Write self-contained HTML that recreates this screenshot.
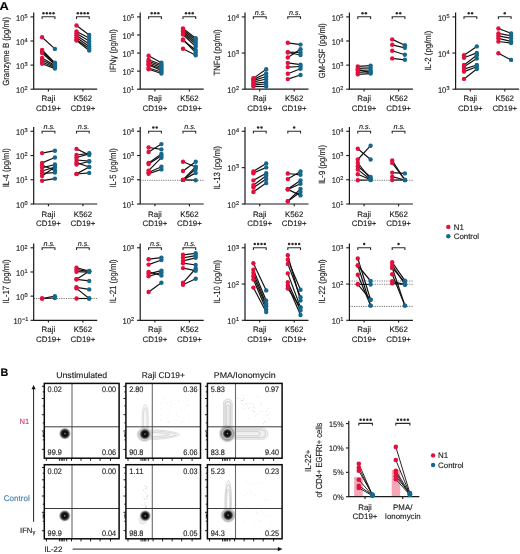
<!DOCTYPE html>
<html><head><meta charset="utf-8"><style>
html,body{margin:0;padding:0;background:#fff;}
svg text{stroke:#1a1a1a;stroke-width:0.13px;}
svg{display:block;font-family:"Liberation Sans", sans-serif;will-change:transform;text-rendering:geometricPrecision;}
</style></head><body>
<svg width="520" height="554" viewBox="0 0 520 554">
<path d="M33.7 12.5V89.2H97.2" fill="none" stroke="#1a1a1a" stroke-width="1.2"/>
<line x1="30.5" y1="16.9" x2="33.7" y2="16.9" stroke="#1a1a1a" stroke-width="1.1"/>
<text x="24.4" y="20.5" font-size="8.4" text-anchor="end" fill="#1a1a1a" textLength="8.4" lengthAdjust="spacingAndGlyphs">10</text>
<text x="24.6" y="17.6" font-size="5.6" fill="#1a1a1a">5</text>
<line x1="30.5" y1="41" x2="33.7" y2="41" stroke="#1a1a1a" stroke-width="1.1"/>
<text x="24.4" y="44.6" font-size="8.4" text-anchor="end" fill="#1a1a1a" textLength="8.4" lengthAdjust="spacingAndGlyphs">10</text>
<text x="24.6" y="41.7" font-size="5.6" fill="#1a1a1a">4</text>
<line x1="30.5" y1="65.1" x2="33.7" y2="65.1" stroke="#1a1a1a" stroke-width="1.1"/>
<text x="24.4" y="68.7" font-size="8.4" text-anchor="end" fill="#1a1a1a" textLength="8.4" lengthAdjust="spacingAndGlyphs">10</text>
<text x="24.6" y="65.8" font-size="5.6" fill="#1a1a1a">3</text>
<line x1="30.5" y1="89.2" x2="33.7" y2="89.2" stroke="#1a1a1a" stroke-width="1.1"/>
<text x="24.4" y="92.8" font-size="8.4" text-anchor="end" fill="#1a1a1a" textLength="8.4" lengthAdjust="spacingAndGlyphs">10</text>
<text x="24.6" y="89.9" font-size="5.6" fill="#1a1a1a">2</text>
<line x1="48.4" y1="89.2" x2="48.4" y2="91.5" stroke="#1a1a1a" stroke-width="1.1"/>
<text x="48.4" y="100.8" font-size="7.9" text-anchor="middle" fill="#1a1a1a">Raji</text>
<text x="48.4" y="110.6" font-size="7.9" text-anchor="middle" fill="#1a1a1a">CD19+</text>
<line x1="82.9" y1="89.2" x2="82.9" y2="91.5" stroke="#1a1a1a" stroke-width="1.1"/>
<text x="82.9" y="100.8" font-size="7.9" text-anchor="middle" fill="#1a1a1a">K562</text>
<text x="82.9" y="110.6" font-size="7.9" text-anchor="middle" fill="#1a1a1a">CD19+</text>
<text transform="translate(9,51.3) rotate(-90)" font-size="9" text-anchor="middle" fill="#1a1a1a" stroke="#1a1a1a" stroke-width="0.2" textLength="68.8" lengthAdjust="spacingAndGlyphs">Granzyme B (pg/ml)</text>
<path d="M42.1 19V16.8H54.9V19" fill="none" stroke="#2a2a2a" stroke-width="1.1"/>
<circle cx="43.48" cy="13.2" r="1.25" fill="#2a2a2a"/>
<circle cx="46.83" cy="13.2" r="1.25" fill="#2a2a2a"/>
<circle cx="50.17" cy="13.2" r="1.25" fill="#2a2a2a"/>
<circle cx="53.52" cy="13.2" r="1.25" fill="#2a2a2a"/>
<path d="M76.5 19V16.8H89.2V19" fill="none" stroke="#2a2a2a" stroke-width="1.1"/>
<circle cx="77.82" cy="13.2" r="1.25" fill="#2a2a2a"/>
<circle cx="81.17" cy="13.2" r="1.25" fill="#2a2a2a"/>
<circle cx="84.52" cy="13.2" r="1.25" fill="#2a2a2a"/>
<circle cx="87.88" cy="13.2" r="1.25" fill="#2a2a2a"/>
<line x1="42.1" y1="37.3" x2="54.9" y2="48.9" stroke="#111" stroke-width="1.2"/>
<line x1="42.1" y1="50" x2="54.9" y2="62.8" stroke="#111" stroke-width="1.2"/>
<line x1="42.1" y1="51.5" x2="54.9" y2="63.5" stroke="#111" stroke-width="1.2"/>
<line x1="42.1" y1="53" x2="54.9" y2="64.5" stroke="#111" stroke-width="1.2"/>
<line x1="42.1" y1="58" x2="54.9" y2="65.5" stroke="#111" stroke-width="1.2"/>
<line x1="42.1" y1="60" x2="54.9" y2="66.5" stroke="#111" stroke-width="1.2"/>
<line x1="42.1" y1="62" x2="54.9" y2="67.5" stroke="#111" stroke-width="1.2"/>
<line x1="42.1" y1="63.8" x2="54.9" y2="68.6" stroke="#111" stroke-width="1.2"/>
<circle cx="42.1" cy="37.3" r="2.2" fill="#e2103d"/>
<circle cx="54.9" cy="48.9" r="2.2" fill="#17688e"/>
<circle cx="42.1" cy="50" r="2.2" fill="#e2103d"/>
<circle cx="54.9" cy="62.8" r="2.2" fill="#17688e"/>
<circle cx="42.1" cy="51.5" r="2.2" fill="#e2103d"/>
<circle cx="54.9" cy="63.5" r="2.2" fill="#17688e"/>
<circle cx="42.1" cy="53" r="2.2" fill="#e2103d"/>
<circle cx="54.9" cy="64.5" r="2.2" fill="#17688e"/>
<circle cx="42.1" cy="58" r="2.2" fill="#e2103d"/>
<circle cx="54.9" cy="65.5" r="2.2" fill="#17688e"/>
<circle cx="42.1" cy="60" r="2.2" fill="#e2103d"/>
<circle cx="54.9" cy="66.5" r="2.2" fill="#17688e"/>
<circle cx="42.1" cy="62" r="2.2" fill="#e2103d"/>
<circle cx="54.9" cy="67.5" r="2.2" fill="#17688e"/>
<circle cx="42.1" cy="63.8" r="2.2" fill="#e2103d"/>
<circle cx="54.9" cy="68.6" r="2.2" fill="#17688e"/>
<line x1="76.5" y1="25.5" x2="89.2" y2="35" stroke="#111" stroke-width="1.2"/>
<line x1="76.5" y1="31.5" x2="89.2" y2="38" stroke="#111" stroke-width="1.2"/>
<line x1="76.5" y1="33.5" x2="89.2" y2="41" stroke="#111" stroke-width="1.2"/>
<line x1="76.5" y1="35.5" x2="89.2" y2="44" stroke="#111" stroke-width="1.2"/>
<line x1="76.5" y1="37.5" x2="89.2" y2="46.5" stroke="#111" stroke-width="1.2"/>
<line x1="76.5" y1="39.5" x2="89.2" y2="48.5" stroke="#111" stroke-width="1.2"/>
<line x1="76.5" y1="40.5" x2="89.2" y2="50.5" stroke="#111" stroke-width="1.2"/>
<circle cx="76.5" cy="25.5" r="2.2" fill="#e2103d"/>
<circle cx="89.2" cy="35" r="2.2" fill="#17688e"/>
<circle cx="76.5" cy="31.5" r="2.2" fill="#e2103d"/>
<circle cx="89.2" cy="38" r="2.2" fill="#17688e"/>
<circle cx="76.5" cy="33.5" r="2.2" fill="#e2103d"/>
<circle cx="89.2" cy="41" r="2.2" fill="#17688e"/>
<circle cx="76.5" cy="35.5" r="2.2" fill="#e2103d"/>
<circle cx="89.2" cy="44" r="2.2" fill="#17688e"/>
<circle cx="76.5" cy="37.5" r="2.2" fill="#e2103d"/>
<circle cx="89.2" cy="46.5" r="2.2" fill="#17688e"/>
<circle cx="76.5" cy="39.5" r="2.2" fill="#e2103d"/>
<circle cx="89.2" cy="48.5" r="2.2" fill="#17688e"/>
<circle cx="76.5" cy="40.5" r="2.2" fill="#e2103d"/>
<circle cx="89.2" cy="50.5" r="2.2" fill="#17688e"/>
<path d="M140.2 12.5V89.2H203.7" fill="none" stroke="#1a1a1a" stroke-width="1.2"/>
<line x1="137" y1="16.9" x2="140.2" y2="16.9" stroke="#1a1a1a" stroke-width="1.1"/>
<text x="130.9" y="20.5" font-size="8.4" text-anchor="end" fill="#1a1a1a" textLength="8.4" lengthAdjust="spacingAndGlyphs">10</text>
<text x="131.1" y="17.6" font-size="5.6" fill="#1a1a1a">5</text>
<line x1="137" y1="34.98" x2="140.2" y2="34.98" stroke="#1a1a1a" stroke-width="1.1"/>
<text x="130.9" y="38.58" font-size="8.4" text-anchor="end" fill="#1a1a1a" textLength="8.4" lengthAdjust="spacingAndGlyphs">10</text>
<text x="131.1" y="35.68" font-size="5.6" fill="#1a1a1a">4</text>
<line x1="137" y1="53.05" x2="140.2" y2="53.05" stroke="#1a1a1a" stroke-width="1.1"/>
<text x="130.9" y="56.65" font-size="8.4" text-anchor="end" fill="#1a1a1a" textLength="8.4" lengthAdjust="spacingAndGlyphs">10</text>
<text x="131.1" y="53.75" font-size="5.6" fill="#1a1a1a">3</text>
<line x1="137" y1="71.12" x2="140.2" y2="71.12" stroke="#1a1a1a" stroke-width="1.1"/>
<text x="130.9" y="74.72" font-size="8.4" text-anchor="end" fill="#1a1a1a" textLength="8.4" lengthAdjust="spacingAndGlyphs">10</text>
<text x="131.1" y="71.83" font-size="5.6" fill="#1a1a1a">2</text>
<line x1="137" y1="89.2" x2="140.2" y2="89.2" stroke="#1a1a1a" stroke-width="1.1"/>
<text x="130.9" y="92.8" font-size="8.4" text-anchor="end" fill="#1a1a1a" textLength="8.4" lengthAdjust="spacingAndGlyphs">10</text>
<text x="131.1" y="89.9" font-size="5.6" fill="#1a1a1a">1</text>
<line x1="154.9" y1="89.2" x2="154.9" y2="91.5" stroke="#1a1a1a" stroke-width="1.1"/>
<text x="154.9" y="100.8" font-size="7.9" text-anchor="middle" fill="#1a1a1a">Raji</text>
<text x="154.9" y="110.6" font-size="7.9" text-anchor="middle" fill="#1a1a1a">CD19+</text>
<line x1="189.4" y1="89.2" x2="189.4" y2="91.5" stroke="#1a1a1a" stroke-width="1.1"/>
<text x="189.4" y="100.8" font-size="7.9" text-anchor="middle" fill="#1a1a1a">K562</text>
<text x="189.4" y="110.6" font-size="7.9" text-anchor="middle" fill="#1a1a1a">CD19+</text>
<text transform="translate(115.5,50.7) rotate(-90)" font-size="9" text-anchor="middle" fill="#1a1a1a" stroke="#1a1a1a" stroke-width="0.2" textLength="42.9" lengthAdjust="spacingAndGlyphs">IFNγ (pg/ml)</text>
<path d="M148.6 19V16.8H161.4V19" fill="none" stroke="#2a2a2a" stroke-width="1.1"/>
<circle cx="151.65" cy="13.2" r="1.25" fill="#2a2a2a"/>
<circle cx="155" cy="13.2" r="1.25" fill="#2a2a2a"/>
<circle cx="158.35" cy="13.2" r="1.25" fill="#2a2a2a"/>
<path d="M183 19V16.8H195.7V19" fill="none" stroke="#2a2a2a" stroke-width="1.1"/>
<circle cx="186" cy="13.2" r="1.25" fill="#2a2a2a"/>
<circle cx="189.35" cy="13.2" r="1.25" fill="#2a2a2a"/>
<circle cx="192.7" cy="13.2" r="1.25" fill="#2a2a2a"/>
<line x1="148.6" y1="55.8" x2="161.4" y2="62.8" stroke="#111" stroke-width="1.2"/>
<line x1="148.6" y1="59.8" x2="161.4" y2="64.5" stroke="#111" stroke-width="1.2"/>
<line x1="148.6" y1="61.3" x2="161.4" y2="66" stroke="#111" stroke-width="1.2"/>
<line x1="148.6" y1="62.8" x2="161.4" y2="67.5" stroke="#111" stroke-width="1.2"/>
<line x1="148.6" y1="64.2" x2="161.4" y2="69" stroke="#111" stroke-width="1.2"/>
<line x1="148.6" y1="65" x2="161.4" y2="70.5" stroke="#111" stroke-width="1.2"/>
<line x1="148.6" y1="69.2" x2="161.4" y2="73.5" stroke="#111" stroke-width="1.2"/>
<line x1="148.6" y1="68" x2="161.4" y2="72" stroke="#111" stroke-width="1.2"/>
<circle cx="148.6" cy="55.8" r="2.2" fill="#e2103d"/>
<circle cx="161.4" cy="62.8" r="2.2" fill="#17688e"/>
<circle cx="148.6" cy="59.8" r="2.2" fill="#e2103d"/>
<circle cx="161.4" cy="64.5" r="2.2" fill="#17688e"/>
<circle cx="148.6" cy="61.3" r="2.2" fill="#e2103d"/>
<circle cx="161.4" cy="66" r="2.2" fill="#17688e"/>
<circle cx="148.6" cy="62.8" r="2.2" fill="#e2103d"/>
<circle cx="161.4" cy="67.5" r="2.2" fill="#17688e"/>
<circle cx="148.6" cy="64.2" r="2.2" fill="#e2103d"/>
<circle cx="161.4" cy="69" r="2.2" fill="#17688e"/>
<circle cx="148.6" cy="65" r="2.2" fill="#e2103d"/>
<circle cx="161.4" cy="70.5" r="2.2" fill="#17688e"/>
<circle cx="148.6" cy="69.2" r="2.2" fill="#e2103d"/>
<circle cx="161.4" cy="73.5" r="2.2" fill="#17688e"/>
<circle cx="148.6" cy="68" r="2.2" fill="#e2103d"/>
<circle cx="161.4" cy="72" r="2.2" fill="#17688e"/>
<line x1="183" y1="28.5" x2="195.7" y2="38.3" stroke="#111" stroke-width="1.2"/>
<line x1="183" y1="30" x2="195.7" y2="40" stroke="#111" stroke-width="1.2"/>
<line x1="183" y1="31.5" x2="195.7" y2="42" stroke="#111" stroke-width="1.2"/>
<line x1="183" y1="33" x2="195.7" y2="44" stroke="#111" stroke-width="1.2"/>
<line x1="183" y1="34.5" x2="195.7" y2="46.5" stroke="#111" stroke-width="1.2"/>
<line x1="183" y1="40.2" x2="195.7" y2="50" stroke="#111" stroke-width="1.2"/>
<line x1="183" y1="39.5" x2="195.7" y2="52.5" stroke="#111" stroke-width="1.2"/>
<line x1="183" y1="48.7" x2="195.7" y2="55.3" stroke="#111" stroke-width="1.2"/>
<circle cx="183" cy="28.5" r="2.2" fill="#e2103d"/>
<circle cx="195.7" cy="38.3" r="2.2" fill="#17688e"/>
<circle cx="183" cy="30" r="2.2" fill="#e2103d"/>
<circle cx="195.7" cy="40" r="2.2" fill="#17688e"/>
<circle cx="183" cy="31.5" r="2.2" fill="#e2103d"/>
<circle cx="195.7" cy="42" r="2.2" fill="#17688e"/>
<circle cx="183" cy="33" r="2.2" fill="#e2103d"/>
<circle cx="195.7" cy="44" r="2.2" fill="#17688e"/>
<circle cx="183" cy="34.5" r="2.2" fill="#e2103d"/>
<circle cx="195.7" cy="46.5" r="2.2" fill="#17688e"/>
<circle cx="183" cy="40.2" r="2.2" fill="#e2103d"/>
<circle cx="195.7" cy="50" r="2.2" fill="#17688e"/>
<circle cx="183" cy="39.5" r="2.2" fill="#e2103d"/>
<circle cx="195.7" cy="52.5" r="2.2" fill="#17688e"/>
<circle cx="183" cy="48.7" r="2.2" fill="#e2103d"/>
<circle cx="195.7" cy="55.3" r="2.2" fill="#17688e"/>
<path d="M245 12.5V89.2H308.5" fill="none" stroke="#1a1a1a" stroke-width="1.2"/>
<line x1="241.8" y1="16.9" x2="245" y2="16.9" stroke="#1a1a1a" stroke-width="1.1"/>
<text x="235.7" y="20.5" font-size="8.4" text-anchor="end" fill="#1a1a1a" textLength="8.4" lengthAdjust="spacingAndGlyphs">10</text>
<text x="235.9" y="17.6" font-size="5.6" fill="#1a1a1a">4</text>
<line x1="241.8" y1="53.05" x2="245" y2="53.05" stroke="#1a1a1a" stroke-width="1.1"/>
<text x="235.7" y="56.65" font-size="8.4" text-anchor="end" fill="#1a1a1a" textLength="8.4" lengthAdjust="spacingAndGlyphs">10</text>
<text x="235.9" y="53.75" font-size="5.6" fill="#1a1a1a">3</text>
<line x1="241.8" y1="89.2" x2="245" y2="89.2" stroke="#1a1a1a" stroke-width="1.1"/>
<text x="235.7" y="92.8" font-size="8.4" text-anchor="end" fill="#1a1a1a" textLength="8.4" lengthAdjust="spacingAndGlyphs">10</text>
<text x="235.9" y="89.9" font-size="5.6" fill="#1a1a1a">2</text>
<line x1="259.7" y1="89.2" x2="259.7" y2="91.5" stroke="#1a1a1a" stroke-width="1.1"/>
<text x="259.7" y="100.8" font-size="7.9" text-anchor="middle" fill="#1a1a1a">Raji</text>
<text x="259.7" y="110.6" font-size="7.9" text-anchor="middle" fill="#1a1a1a">CD19+</text>
<line x1="294.2" y1="89.2" x2="294.2" y2="91.5" stroke="#1a1a1a" stroke-width="1.1"/>
<text x="294.2" y="100.8" font-size="7.9" text-anchor="middle" fill="#1a1a1a">K562</text>
<text x="294.2" y="110.6" font-size="7.9" text-anchor="middle" fill="#1a1a1a">CD19+</text>
<text transform="translate(220.3,52.5) rotate(-90)" font-size="9" text-anchor="middle" fill="#1a1a1a" stroke="#1a1a1a" stroke-width="0.2" textLength="46.1" lengthAdjust="spacingAndGlyphs">TNFα (pg/ml)</text>
<path d="M253.4 19V16.8H266.2V19" fill="none" stroke="#2a2a2a" stroke-width="1.1"/>
<text x="260.5" y="14.8" font-size="7.2" font-style="italic" text-anchor="middle" fill="#222">n.s.</text>
<path d="M287.8 19V16.8H300.5V19" fill="none" stroke="#2a2a2a" stroke-width="1.1"/>
<text x="294.85" y="14.8" font-size="7.2" font-style="italic" text-anchor="middle" fill="#222">n.s.</text>
<line x1="253.4" y1="78.3" x2="266.2" y2="69.2" stroke="#111" stroke-width="1.2"/>
<line x1="253.4" y1="79.5" x2="266.2" y2="73.5" stroke="#111" stroke-width="1.2"/>
<line x1="253.4" y1="80.5" x2="266.2" y2="76.5" stroke="#111" stroke-width="1.2"/>
<line x1="253.4" y1="82" x2="266.2" y2="79" stroke="#111" stroke-width="1.2"/>
<line x1="253.4" y1="83.5" x2="266.2" y2="82" stroke="#111" stroke-width="1.2"/>
<line x1="253.4" y1="85" x2="266.2" y2="84" stroke="#111" stroke-width="1.2"/>
<line x1="253.4" y1="86.5" x2="266.2" y2="86.5" stroke="#111" stroke-width="1.2"/>
<circle cx="253.4" cy="78.3" r="2.2" fill="#e2103d"/>
<circle cx="266.2" cy="69.2" r="2.2" fill="#17688e"/>
<circle cx="253.4" cy="79.5" r="2.2" fill="#e2103d"/>
<circle cx="266.2" cy="73.5" r="2.2" fill="#17688e"/>
<circle cx="253.4" cy="80.5" r="2.2" fill="#e2103d"/>
<circle cx="266.2" cy="76.5" r="2.2" fill="#17688e"/>
<circle cx="253.4" cy="82" r="2.2" fill="#e2103d"/>
<circle cx="266.2" cy="79" r="2.2" fill="#17688e"/>
<circle cx="253.4" cy="83.5" r="2.2" fill="#e2103d"/>
<circle cx="266.2" cy="82" r="2.2" fill="#17688e"/>
<circle cx="253.4" cy="85" r="2.2" fill="#e2103d"/>
<circle cx="266.2" cy="84" r="2.2" fill="#17688e"/>
<circle cx="253.4" cy="86.5" r="2.2" fill="#e2103d"/>
<circle cx="266.2" cy="86.5" r="2.2" fill="#17688e"/>
<line x1="287.8" y1="42.8" x2="300.5" y2="44.6" stroke="#111" stroke-width="1.2"/>
<line x1="287.8" y1="52.1" x2="300.5" y2="52.5" stroke="#111" stroke-width="1.2"/>
<line x1="287.8" y1="52.5" x2="300.5" y2="55" stroke="#111" stroke-width="1.2"/>
<line x1="287.8" y1="57.5" x2="300.5" y2="49.2" stroke="#111" stroke-width="1.2"/>
<line x1="287.8" y1="62.9" x2="300.5" y2="64.6" stroke="#111" stroke-width="1.2"/>
<line x1="287.8" y1="67.1" x2="300.5" y2="66.5" stroke="#111" stroke-width="1.2"/>
<line x1="287.8" y1="73.7" x2="300.5" y2="68.7" stroke="#111" stroke-width="1.2"/>
<line x1="287.8" y1="79.1" x2="300.5" y2="75" stroke="#111" stroke-width="1.2"/>
<circle cx="287.8" cy="42.8" r="2.2" fill="#e2103d"/>
<circle cx="300.5" cy="44.6" r="2.2" fill="#17688e"/>
<circle cx="287.8" cy="52.1" r="2.2" fill="#e2103d"/>
<circle cx="300.5" cy="52.5" r="2.2" fill="#17688e"/>
<circle cx="287.8" cy="52.5" r="2.2" fill="#e2103d"/>
<circle cx="300.5" cy="55" r="2.2" fill="#17688e"/>
<circle cx="287.8" cy="57.5" r="2.2" fill="#e2103d"/>
<circle cx="300.5" cy="49.2" r="2.2" fill="#17688e"/>
<circle cx="287.8" cy="62.9" r="2.2" fill="#e2103d"/>
<circle cx="300.5" cy="64.6" r="2.2" fill="#17688e"/>
<circle cx="287.8" cy="67.1" r="2.2" fill="#e2103d"/>
<circle cx="300.5" cy="66.5" r="2.2" fill="#17688e"/>
<circle cx="287.8" cy="73.7" r="2.2" fill="#e2103d"/>
<circle cx="300.5" cy="68.7" r="2.2" fill="#17688e"/>
<circle cx="287.8" cy="79.1" r="2.2" fill="#e2103d"/>
<circle cx="300.5" cy="75" r="2.2" fill="#17688e"/>
<path d="M349.4 12.5V89.2H412.9" fill="none" stroke="#1a1a1a" stroke-width="1.2"/>
<line x1="346.2" y1="16.9" x2="349.4" y2="16.9" stroke="#1a1a1a" stroke-width="1.1"/>
<text x="340.1" y="20.5" font-size="8.4" text-anchor="end" fill="#1a1a1a" textLength="8.4" lengthAdjust="spacingAndGlyphs">10</text>
<text x="340.3" y="17.6" font-size="5.6" fill="#1a1a1a">5</text>
<line x1="346.2" y1="41" x2="349.4" y2="41" stroke="#1a1a1a" stroke-width="1.1"/>
<text x="340.1" y="44.6" font-size="8.4" text-anchor="end" fill="#1a1a1a" textLength="8.4" lengthAdjust="spacingAndGlyphs">10</text>
<text x="340.3" y="41.7" font-size="5.6" fill="#1a1a1a">4</text>
<line x1="346.2" y1="65.1" x2="349.4" y2="65.1" stroke="#1a1a1a" stroke-width="1.1"/>
<text x="340.1" y="68.7" font-size="8.4" text-anchor="end" fill="#1a1a1a" textLength="8.4" lengthAdjust="spacingAndGlyphs">10</text>
<text x="340.3" y="65.8" font-size="5.6" fill="#1a1a1a">3</text>
<line x1="346.2" y1="89.2" x2="349.4" y2="89.2" stroke="#1a1a1a" stroke-width="1.1"/>
<text x="340.1" y="92.8" font-size="8.4" text-anchor="end" fill="#1a1a1a" textLength="8.4" lengthAdjust="spacingAndGlyphs">10</text>
<text x="340.3" y="89.9" font-size="5.6" fill="#1a1a1a">2</text>
<line x1="364.1" y1="89.2" x2="364.1" y2="91.5" stroke="#1a1a1a" stroke-width="1.1"/>
<text x="364.1" y="100.8" font-size="7.9" text-anchor="middle" fill="#1a1a1a">Raji</text>
<text x="364.1" y="110.6" font-size="7.9" text-anchor="middle" fill="#1a1a1a">CD19+</text>
<line x1="398.6" y1="89.2" x2="398.6" y2="91.5" stroke="#1a1a1a" stroke-width="1.1"/>
<text x="398.6" y="100.8" font-size="7.9" text-anchor="middle" fill="#1a1a1a">K562</text>
<text x="398.6" y="110.6" font-size="7.9" text-anchor="middle" fill="#1a1a1a">CD19+</text>
<text transform="translate(324.7,50.7) rotate(-90)" font-size="9" text-anchor="middle" fill="#1a1a1a" stroke="#1a1a1a" stroke-width="0.2" textLength="55.1" lengthAdjust="spacingAndGlyphs">GM-CSF (pg/ml)</text>
<path d="M357.8 19V16.8H370.6V19" fill="none" stroke="#2a2a2a" stroke-width="1.1"/>
<circle cx="362.52" cy="13.2" r="1.25" fill="#2a2a2a"/>
<circle cx="365.87" cy="13.2" r="1.25" fill="#2a2a2a"/>
<path d="M392.2 19V16.8H404.9V19" fill="none" stroke="#2a2a2a" stroke-width="1.1"/>
<circle cx="396.87" cy="13.2" r="1.25" fill="#2a2a2a"/>
<circle cx="400.22" cy="13.2" r="1.25" fill="#2a2a2a"/>
<line x1="357.8" y1="66.4" x2="370.6" y2="65.6" stroke="#111" stroke-width="1.2"/>
<line x1="357.8" y1="68.4" x2="370.6" y2="67.8" stroke="#111" stroke-width="1.2"/>
<line x1="357.8" y1="70.4" x2="370.6" y2="70" stroke="#111" stroke-width="1.2"/>
<line x1="357.8" y1="72.4" x2="370.6" y2="71.6" stroke="#111" stroke-width="1.2"/>
<line x1="357.8" y1="74.3" x2="370.6" y2="73.6" stroke="#111" stroke-width="1.2"/>
<line x1="357.8" y1="69.5" x2="370.6" y2="72.8" stroke="#111" stroke-width="1.2"/>
<circle cx="357.8" cy="66.4" r="2.2" fill="#e2103d"/>
<circle cx="370.6" cy="65.6" r="2.2" fill="#17688e"/>
<circle cx="357.8" cy="68.4" r="2.2" fill="#e2103d"/>
<circle cx="370.6" cy="67.8" r="2.2" fill="#17688e"/>
<circle cx="357.8" cy="70.4" r="2.2" fill="#e2103d"/>
<circle cx="370.6" cy="70" r="2.2" fill="#17688e"/>
<circle cx="357.8" cy="72.4" r="2.2" fill="#e2103d"/>
<circle cx="370.6" cy="71.6" r="2.2" fill="#17688e"/>
<circle cx="357.8" cy="74.3" r="2.2" fill="#e2103d"/>
<circle cx="370.6" cy="73.6" r="2.2" fill="#17688e"/>
<circle cx="357.8" cy="69.5" r="2.2" fill="#e2103d"/>
<circle cx="370.6" cy="72.8" r="2.2" fill="#17688e"/>
<line x1="392.2" y1="39.4" x2="404.9" y2="45.3" stroke="#111" stroke-width="1.2"/>
<line x1="392.2" y1="44.8" x2="404.9" y2="47.8" stroke="#111" stroke-width="1.2"/>
<line x1="392.2" y1="50.8" x2="404.9" y2="54.8" stroke="#111" stroke-width="1.2"/>
<line x1="392.2" y1="58.4" x2="404.9" y2="59.8" stroke="#111" stroke-width="1.2"/>
<circle cx="392.2" cy="39.4" r="2.2" fill="#e2103d"/>
<circle cx="404.9" cy="45.3" r="2.2" fill="#17688e"/>
<circle cx="392.2" cy="44.8" r="2.2" fill="#e2103d"/>
<circle cx="404.9" cy="47.8" r="2.2" fill="#17688e"/>
<circle cx="392.2" cy="50.8" r="2.2" fill="#e2103d"/>
<circle cx="404.9" cy="54.8" r="2.2" fill="#17688e"/>
<circle cx="392.2" cy="58.4" r="2.2" fill="#e2103d"/>
<circle cx="404.9" cy="59.8" r="2.2" fill="#17688e"/>
<path d="M455.6 12.5V89.2H519.1" fill="none" stroke="#1a1a1a" stroke-width="1.2"/>
<line x1="452.4" y1="16.9" x2="455.6" y2="16.9" stroke="#1a1a1a" stroke-width="1.1"/>
<text x="446.3" y="20.5" font-size="8.4" text-anchor="end" fill="#1a1a1a" textLength="8.4" lengthAdjust="spacingAndGlyphs">10</text>
<text x="446.5" y="17.6" font-size="5.6" fill="#1a1a1a">5</text>
<line x1="452.4" y1="53.05" x2="455.6" y2="53.05" stroke="#1a1a1a" stroke-width="1.1"/>
<text x="446.3" y="56.65" font-size="8.4" text-anchor="end" fill="#1a1a1a" textLength="8.4" lengthAdjust="spacingAndGlyphs">10</text>
<text x="446.5" y="53.75" font-size="5.6" fill="#1a1a1a">4</text>
<line x1="452.4" y1="89.2" x2="455.6" y2="89.2" stroke="#1a1a1a" stroke-width="1.1"/>
<text x="446.3" y="92.8" font-size="8.4" text-anchor="end" fill="#1a1a1a" textLength="8.4" lengthAdjust="spacingAndGlyphs">10</text>
<text x="446.5" y="89.9" font-size="5.6" fill="#1a1a1a">3</text>
<line x1="470.3" y1="89.2" x2="470.3" y2="91.5" stroke="#1a1a1a" stroke-width="1.1"/>
<text x="470.3" y="100.8" font-size="7.9" text-anchor="middle" fill="#1a1a1a">Raji</text>
<text x="470.3" y="110.6" font-size="7.9" text-anchor="middle" fill="#1a1a1a">CD19+</text>
<line x1="504.8" y1="89.2" x2="504.8" y2="91.5" stroke="#1a1a1a" stroke-width="1.1"/>
<text x="504.8" y="100.8" font-size="7.9" text-anchor="middle" fill="#1a1a1a">K562</text>
<text x="504.8" y="110.6" font-size="7.9" text-anchor="middle" fill="#1a1a1a">CD19+</text>
<text transform="translate(430.9,50.8) rotate(-90)" font-size="9" text-anchor="middle" fill="#1a1a1a" stroke="#1a1a1a" stroke-width="0.2" textLength="40.1" lengthAdjust="spacingAndGlyphs">IL-2 (pg/ml)</text>
<path d="M464 19V16.8H476.8V19" fill="none" stroke="#2a2a2a" stroke-width="1.1"/>
<circle cx="468.72" cy="13.2" r="1.25" fill="#2a2a2a"/>
<circle cx="472.07" cy="13.2" r="1.25" fill="#2a2a2a"/>
<path d="M498.4 19V16.8H511.1V19" fill="none" stroke="#2a2a2a" stroke-width="1.1"/>
<circle cx="504.75" cy="13.2" r="1.25" fill="#2a2a2a"/>
<line x1="464" y1="55.3" x2="476.8" y2="46.4" stroke="#111" stroke-width="1.2"/>
<line x1="464" y1="57.8" x2="476.8" y2="52.9" stroke="#111" stroke-width="1.2"/>
<line x1="464" y1="65" x2="476.8" y2="55.3" stroke="#111" stroke-width="1.2"/>
<line x1="464" y1="66.7" x2="476.8" y2="58.6" stroke="#111" stroke-width="1.2"/>
<line x1="464" y1="69.1" x2="476.8" y2="65" stroke="#111" stroke-width="1.2"/>
<line x1="464" y1="71.6" x2="476.8" y2="66.7" stroke="#111" stroke-width="1.2"/>
<line x1="464" y1="78.9" x2="476.8" y2="69.1" stroke="#111" stroke-width="1.2"/>
<circle cx="464" cy="55.3" r="2.2" fill="#e2103d"/>
<circle cx="476.8" cy="46.4" r="2.2" fill="#17688e"/>
<circle cx="464" cy="57.8" r="2.2" fill="#e2103d"/>
<circle cx="476.8" cy="52.9" r="2.2" fill="#17688e"/>
<circle cx="464" cy="65" r="2.2" fill="#e2103d"/>
<circle cx="476.8" cy="55.3" r="2.2" fill="#17688e"/>
<circle cx="464" cy="66.7" r="2.2" fill="#e2103d"/>
<circle cx="476.8" cy="58.6" r="2.2" fill="#17688e"/>
<circle cx="464" cy="69.1" r="2.2" fill="#e2103d"/>
<circle cx="476.8" cy="65" r="2.2" fill="#17688e"/>
<circle cx="464" cy="71.6" r="2.2" fill="#e2103d"/>
<circle cx="476.8" cy="66.7" r="2.2" fill="#17688e"/>
<circle cx="464" cy="78.9" r="2.2" fill="#e2103d"/>
<circle cx="476.8" cy="69.1" r="2.2" fill="#17688e"/>
<line x1="498.4" y1="28.5" x2="511.1" y2="33.4" stroke="#111" stroke-width="1.2"/>
<line x1="498.4" y1="33.4" x2="511.1" y2="35.8" stroke="#111" stroke-width="1.2"/>
<line x1="498.4" y1="35.8" x2="511.1" y2="38.3" stroke="#111" stroke-width="1.2"/>
<line x1="498.4" y1="38.3" x2="511.1" y2="41.5" stroke="#111" stroke-width="1.2"/>
<line x1="498.4" y1="41.5" x2="511.1" y2="43.1" stroke="#111" stroke-width="1.2"/>
<line x1="498.4" y1="53.2" x2="511.1" y2="59.9" stroke="#111" stroke-width="1.2"/>
<circle cx="498.4" cy="28.5" r="2.2" fill="#e2103d"/>
<circle cx="511.1" cy="33.4" r="2.2" fill="#17688e"/>
<circle cx="498.4" cy="33.4" r="2.2" fill="#e2103d"/>
<circle cx="511.1" cy="35.8" r="2.2" fill="#17688e"/>
<circle cx="498.4" cy="35.8" r="2.2" fill="#e2103d"/>
<circle cx="511.1" cy="38.3" r="2.2" fill="#17688e"/>
<circle cx="498.4" cy="38.3" r="2.2" fill="#e2103d"/>
<circle cx="511.1" cy="41.5" r="2.2" fill="#17688e"/>
<circle cx="498.4" cy="41.5" r="2.2" fill="#e2103d"/>
<circle cx="511.1" cy="43.1" r="2.2" fill="#17688e"/>
<circle cx="498.4" cy="53.2" r="2.2" fill="#e2103d"/>
<circle cx="511.1" cy="59.9" r="2.2" fill="#17688e"/>
<path d="M33.7 126.9V204H97.2" fill="none" stroke="#1a1a1a" stroke-width="1.2"/>
<line x1="30.5" y1="131.3" x2="33.7" y2="131.3" stroke="#1a1a1a" stroke-width="1.1"/>
<text x="24.4" y="134.9" font-size="8.4" text-anchor="end" fill="#1a1a1a" textLength="8.4" lengthAdjust="spacingAndGlyphs">10</text>
<text x="24.6" y="132" font-size="5.6" fill="#1a1a1a">3</text>
<line x1="30.5" y1="155.53" x2="33.7" y2="155.53" stroke="#1a1a1a" stroke-width="1.1"/>
<text x="24.4" y="159.13" font-size="8.4" text-anchor="end" fill="#1a1a1a" textLength="8.4" lengthAdjust="spacingAndGlyphs">10</text>
<text x="24.6" y="156.23" font-size="5.6" fill="#1a1a1a">2</text>
<line x1="30.5" y1="179.77" x2="33.7" y2="179.77" stroke="#1a1a1a" stroke-width="1.1"/>
<text x="24.4" y="183.37" font-size="8.4" text-anchor="end" fill="#1a1a1a" textLength="8.4" lengthAdjust="spacingAndGlyphs">10</text>
<text x="24.6" y="180.47" font-size="5.6" fill="#1a1a1a">1</text>
<line x1="30.5" y1="204" x2="33.7" y2="204" stroke="#1a1a1a" stroke-width="1.1"/>
<text x="24.4" y="207.6" font-size="8.4" text-anchor="end" fill="#1a1a1a" textLength="8.4" lengthAdjust="spacingAndGlyphs">10</text>
<text x="24.6" y="204.7" font-size="5.6" fill="#1a1a1a">0</text>
<line x1="48.4" y1="204" x2="48.4" y2="206.3" stroke="#1a1a1a" stroke-width="1.1"/>
<text x="48.4" y="216.5" font-size="7.9" text-anchor="middle" fill="#1a1a1a">Raji</text>
<text x="48.4" y="226.3" font-size="7.9" text-anchor="middle" fill="#1a1a1a">CD19+</text>
<line x1="82.9" y1="204" x2="82.9" y2="206.3" stroke="#1a1a1a" stroke-width="1.1"/>
<text x="82.9" y="216.5" font-size="7.9" text-anchor="middle" fill="#1a1a1a">K562</text>
<text x="82.9" y="226.3" font-size="7.9" text-anchor="middle" fill="#1a1a1a">CD19+</text>
<text transform="translate(9,167.8) rotate(-90)" font-size="9" text-anchor="middle" fill="#1a1a1a" stroke="#1a1a1a" stroke-width="0.2" textLength="39" lengthAdjust="spacingAndGlyphs">IL-4 (pg/ml)</text>
<path d="M42.1 133.4V131.2H54.9V133.4" fill="none" stroke="#2a2a2a" stroke-width="1.1"/>
<text x="49.2" y="129.2" font-size="7.2" font-style="italic" text-anchor="middle" fill="#222">n.s.</text>
<path d="M76.5 133.4V131.2H89.2V133.4" fill="none" stroke="#2a2a2a" stroke-width="1.1"/>
<text x="83.55" y="129.2" font-size="7.2" font-style="italic" text-anchor="middle" fill="#222">n.s.</text>
<line x1="42.1" y1="153.1" x2="54.9" y2="150.7" stroke="#111" stroke-width="1.2"/>
<line x1="42.1" y1="162.9" x2="54.9" y2="157.5" stroke="#111" stroke-width="1.2"/>
<line x1="42.1" y1="165.3" x2="54.9" y2="170.2" stroke="#111" stroke-width="1.2"/>
<line x1="42.1" y1="167.8" x2="54.9" y2="164.5" stroke="#111" stroke-width="1.2"/>
<line x1="42.1" y1="171" x2="54.9" y2="167" stroke="#111" stroke-width="1.2"/>
<line x1="42.1" y1="173.4" x2="54.9" y2="172.6" stroke="#111" stroke-width="1.2"/>
<line x1="42.1" y1="175.9" x2="54.9" y2="167" stroke="#111" stroke-width="1.2"/>
<line x1="42.1" y1="180.7" x2="54.9" y2="178.6" stroke="#111" stroke-width="1.2"/>
<circle cx="42.1" cy="153.1" r="2.2" fill="#e2103d"/>
<circle cx="54.9" cy="150.7" r="2.2" fill="#17688e"/>
<circle cx="42.1" cy="162.9" r="2.2" fill="#e2103d"/>
<circle cx="54.9" cy="157.5" r="2.2" fill="#17688e"/>
<circle cx="42.1" cy="165.3" r="2.2" fill="#e2103d"/>
<circle cx="54.9" cy="170.2" r="2.2" fill="#17688e"/>
<circle cx="42.1" cy="167.8" r="2.2" fill="#e2103d"/>
<circle cx="54.9" cy="164.5" r="2.2" fill="#17688e"/>
<circle cx="42.1" cy="171" r="2.2" fill="#e2103d"/>
<circle cx="54.9" cy="167" r="2.2" fill="#17688e"/>
<circle cx="42.1" cy="173.4" r="2.2" fill="#e2103d"/>
<circle cx="54.9" cy="172.6" r="2.2" fill="#17688e"/>
<circle cx="42.1" cy="175.9" r="2.2" fill="#e2103d"/>
<circle cx="54.9" cy="167" r="2.2" fill="#17688e"/>
<circle cx="42.1" cy="180.7" r="2.2" fill="#e2103d"/>
<circle cx="54.9" cy="178.6" r="2.2" fill="#17688e"/>
<line x1="76.5" y1="148.9" x2="89.2" y2="155" stroke="#111" stroke-width="1.2"/>
<line x1="76.5" y1="155" x2="89.2" y2="153.3" stroke="#111" stroke-width="1.2"/>
<line x1="76.5" y1="157.5" x2="89.2" y2="153.8" stroke="#111" stroke-width="1.2"/>
<line x1="76.5" y1="160" x2="89.2" y2="161.2" stroke="#111" stroke-width="1.2"/>
<line x1="76.5" y1="162.6" x2="89.2" y2="167" stroke="#111" stroke-width="1.2"/>
<line x1="76.5" y1="164.5" x2="89.2" y2="161.5" stroke="#111" stroke-width="1.2"/>
<line x1="76.5" y1="173.9" x2="89.2" y2="167" stroke="#111" stroke-width="1.2"/>
<line x1="76.5" y1="174" x2="89.2" y2="172.9" stroke="#111" stroke-width="1.2"/>
<circle cx="76.5" cy="148.9" r="2.2" fill="#e2103d"/>
<circle cx="89.2" cy="155" r="2.2" fill="#17688e"/>
<circle cx="76.5" cy="155" r="2.2" fill="#e2103d"/>
<circle cx="89.2" cy="153.3" r="2.2" fill="#17688e"/>
<circle cx="76.5" cy="157.5" r="2.2" fill="#e2103d"/>
<circle cx="89.2" cy="153.8" r="2.2" fill="#17688e"/>
<circle cx="76.5" cy="160" r="2.2" fill="#e2103d"/>
<circle cx="89.2" cy="161.2" r="2.2" fill="#17688e"/>
<circle cx="76.5" cy="162.6" r="2.2" fill="#e2103d"/>
<circle cx="89.2" cy="167" r="2.2" fill="#17688e"/>
<circle cx="76.5" cy="164.5" r="2.2" fill="#e2103d"/>
<circle cx="89.2" cy="161.5" r="2.2" fill="#17688e"/>
<circle cx="76.5" cy="173.9" r="2.2" fill="#e2103d"/>
<circle cx="89.2" cy="167" r="2.2" fill="#17688e"/>
<circle cx="76.5" cy="174" r="2.2" fill="#e2103d"/>
<circle cx="89.2" cy="172.9" r="2.2" fill="#17688e"/>
<line x1="140.2" y1="180.3" x2="204.2" y2="180.3" stroke="#7c7c7c" stroke-width="1" stroke-dasharray="1.2 1.1"/>
<path d="M140.2 126.9V204H203.7" fill="none" stroke="#1a1a1a" stroke-width="1.2"/>
<line x1="137" y1="131.3" x2="140.2" y2="131.3" stroke="#1a1a1a" stroke-width="1.1"/>
<text x="130.9" y="134.9" font-size="8.4" text-anchor="end" fill="#1a1a1a" textLength="8.4" lengthAdjust="spacingAndGlyphs">10</text>
<text x="131.1" y="132" font-size="5.6" fill="#1a1a1a">4</text>
<line x1="137" y1="155.53" x2="140.2" y2="155.53" stroke="#1a1a1a" stroke-width="1.1"/>
<text x="130.9" y="159.13" font-size="8.4" text-anchor="end" fill="#1a1a1a" textLength="8.4" lengthAdjust="spacingAndGlyphs">10</text>
<text x="131.1" y="156.23" font-size="5.6" fill="#1a1a1a">3</text>
<line x1="137" y1="179.77" x2="140.2" y2="179.77" stroke="#1a1a1a" stroke-width="1.1"/>
<text x="130.9" y="183.37" font-size="8.4" text-anchor="end" fill="#1a1a1a" textLength="8.4" lengthAdjust="spacingAndGlyphs">10</text>
<text x="131.1" y="180.47" font-size="5.6" fill="#1a1a1a">2</text>
<line x1="137" y1="204" x2="140.2" y2="204" stroke="#1a1a1a" stroke-width="1.1"/>
<text x="130.9" y="207.6" font-size="8.4" text-anchor="end" fill="#1a1a1a" textLength="8.4" lengthAdjust="spacingAndGlyphs">10</text>
<text x="131.1" y="204.7" font-size="5.6" fill="#1a1a1a">1</text>
<line x1="154.9" y1="204" x2="154.9" y2="206.3" stroke="#1a1a1a" stroke-width="1.1"/>
<text x="154.9" y="216.5" font-size="7.9" text-anchor="middle" fill="#1a1a1a">Raji</text>
<text x="154.9" y="226.3" font-size="7.9" text-anchor="middle" fill="#1a1a1a">CD19+</text>
<line x1="189.4" y1="204" x2="189.4" y2="206.3" stroke="#1a1a1a" stroke-width="1.1"/>
<text x="189.4" y="216.5" font-size="7.9" text-anchor="middle" fill="#1a1a1a">K562</text>
<text x="189.4" y="226.3" font-size="7.9" text-anchor="middle" fill="#1a1a1a">CD19+</text>
<text transform="translate(115.5,168) rotate(-90)" font-size="9" text-anchor="middle" fill="#1a1a1a" stroke="#1a1a1a" stroke-width="0.2" textLength="39.5" lengthAdjust="spacingAndGlyphs">IL-5 (pg/ml)</text>
<path d="M148.6 133.4V131.2H161.4V133.4" fill="none" stroke="#2a2a2a" stroke-width="1.1"/>
<circle cx="153.32" cy="127.6" r="1.25" fill="#2a2a2a"/>
<circle cx="156.68" cy="127.6" r="1.25" fill="#2a2a2a"/>
<path d="M183 133.4V131.2H195.7V133.4" fill="none" stroke="#2a2a2a" stroke-width="1.1"/>
<text x="190.05" y="129.2" font-size="7.2" font-style="italic" text-anchor="middle" fill="#222">n.s.</text>
<line x1="148.6" y1="147.5" x2="161.4" y2="149.4" stroke="#111" stroke-width="1.2"/>
<line x1="148.6" y1="152" x2="161.4" y2="144.1" stroke="#111" stroke-width="1.2"/>
<line x1="148.6" y1="163" x2="161.4" y2="153.9" stroke="#111" stroke-width="1.2"/>
<line x1="148.6" y1="164" x2="161.4" y2="155.8" stroke="#111" stroke-width="1.2"/>
<line x1="148.6" y1="170.6" x2="161.4" y2="157.7" stroke="#111" stroke-width="1.2"/>
<line x1="148.6" y1="172.5" x2="161.4" y2="166.8" stroke="#111" stroke-width="1.2"/>
<line x1="148.6" y1="173.8" x2="161.4" y2="169.4" stroke="#111" stroke-width="1.2"/>
<circle cx="148.6" cy="147.5" r="2.2" fill="#e2103d"/>
<circle cx="161.4" cy="149.4" r="2.2" fill="#17688e"/>
<circle cx="148.6" cy="152" r="2.2" fill="#e2103d"/>
<circle cx="161.4" cy="144.1" r="2.2" fill="#17688e"/>
<circle cx="148.6" cy="163" r="2.2" fill="#e2103d"/>
<circle cx="161.4" cy="153.9" r="2.2" fill="#17688e"/>
<circle cx="148.6" cy="164" r="2.2" fill="#e2103d"/>
<circle cx="161.4" cy="155.8" r="2.2" fill="#17688e"/>
<circle cx="148.6" cy="170.6" r="2.2" fill="#e2103d"/>
<circle cx="161.4" cy="157.7" r="2.2" fill="#17688e"/>
<circle cx="148.6" cy="172.5" r="2.2" fill="#e2103d"/>
<circle cx="161.4" cy="166.8" r="2.2" fill="#17688e"/>
<circle cx="148.6" cy="173.8" r="2.2" fill="#e2103d"/>
<circle cx="161.4" cy="169.4" r="2.2" fill="#17688e"/>
<line x1="183" y1="161.8" x2="195.7" y2="167" stroke="#111" stroke-width="1.2"/>
<line x1="183" y1="171" x2="195.7" y2="161.8" stroke="#111" stroke-width="1.2"/>
<line x1="183" y1="179.9" x2="195.7" y2="166.6" stroke="#111" stroke-width="1.2"/>
<line x1="183" y1="179.9" x2="195.7" y2="169" stroke="#111" stroke-width="1.2"/>
<line x1="183" y1="179.9" x2="195.7" y2="172.9" stroke="#111" stroke-width="1.2"/>
<line x1="183" y1="179.9" x2="195.7" y2="180.2" stroke="#111" stroke-width="1.2"/>
<circle cx="183" cy="161.8" r="2.2" fill="#e2103d"/>
<circle cx="195.7" cy="167" r="2.2" fill="#17688e"/>
<circle cx="183" cy="171" r="2.2" fill="#e2103d"/>
<circle cx="195.7" cy="161.8" r="2.2" fill="#17688e"/>
<circle cx="183" cy="179.9" r="2.2" fill="#e2103d"/>
<circle cx="195.7" cy="166.6" r="2.2" fill="#17688e"/>
<circle cx="183" cy="179.9" r="2.2" fill="#e2103d"/>
<circle cx="195.7" cy="169" r="2.2" fill="#17688e"/>
<circle cx="183" cy="179.9" r="2.2" fill="#e2103d"/>
<circle cx="195.7" cy="172.9" r="2.2" fill="#17688e"/>
<circle cx="183" cy="179.9" r="2.2" fill="#e2103d"/>
<circle cx="195.7" cy="180.2" r="2.2" fill="#17688e"/>
<path d="M245 126.9V204H308.5" fill="none" stroke="#1a1a1a" stroke-width="1.2"/>
<line x1="241.8" y1="131.3" x2="245" y2="131.3" stroke="#1a1a1a" stroke-width="1.1"/>
<text x="235.7" y="134.9" font-size="8.4" text-anchor="end" fill="#1a1a1a" textLength="8.4" lengthAdjust="spacingAndGlyphs">10</text>
<text x="235.9" y="132" font-size="5.6" fill="#1a1a1a">4</text>
<line x1="241.8" y1="167.65" x2="245" y2="167.65" stroke="#1a1a1a" stroke-width="1.1"/>
<text x="235.7" y="171.25" font-size="8.4" text-anchor="end" fill="#1a1a1a" textLength="8.4" lengthAdjust="spacingAndGlyphs">10</text>
<text x="235.9" y="168.35" font-size="5.6" fill="#1a1a1a">3</text>
<line x1="241.8" y1="204" x2="245" y2="204" stroke="#1a1a1a" stroke-width="1.1"/>
<text x="235.7" y="207.6" font-size="8.4" text-anchor="end" fill="#1a1a1a" textLength="8.4" lengthAdjust="spacingAndGlyphs">10</text>
<text x="235.9" y="204.7" font-size="5.6" fill="#1a1a1a">2</text>
<line x1="259.7" y1="204" x2="259.7" y2="206.3" stroke="#1a1a1a" stroke-width="1.1"/>
<text x="259.7" y="216.5" font-size="7.9" text-anchor="middle" fill="#1a1a1a">Raji</text>
<text x="259.7" y="226.3" font-size="7.9" text-anchor="middle" fill="#1a1a1a">CD19+</text>
<line x1="294.2" y1="204" x2="294.2" y2="206.3" stroke="#1a1a1a" stroke-width="1.1"/>
<text x="294.2" y="216.5" font-size="7.9" text-anchor="middle" fill="#1a1a1a">K562</text>
<text x="294.2" y="226.3" font-size="7.9" text-anchor="middle" fill="#1a1a1a">CD19+</text>
<text transform="translate(220.3,167.8) rotate(-90)" font-size="9" text-anchor="middle" fill="#1a1a1a" stroke="#1a1a1a" stroke-width="0.2" textLength="44" lengthAdjust="spacingAndGlyphs">IL-13 (pg/ml)</text>
<path d="M253.4 133.4V131.2H266.2V133.4" fill="none" stroke="#2a2a2a" stroke-width="1.1"/>
<circle cx="258.12" cy="127.6" r="1.25" fill="#2a2a2a"/>
<circle cx="261.48" cy="127.6" r="1.25" fill="#2a2a2a"/>
<path d="M287.8 133.4V131.2H300.5V133.4" fill="none" stroke="#2a2a2a" stroke-width="1.1"/>
<circle cx="294.15" cy="127.6" r="1.25" fill="#2a2a2a"/>
<line x1="253.4" y1="171.4" x2="266.2" y2="163.4" stroke="#111" stroke-width="1.2"/>
<line x1="253.4" y1="173.2" x2="266.2" y2="167.4" stroke="#111" stroke-width="1.2"/>
<line x1="253.4" y1="180.4" x2="266.2" y2="173.2" stroke="#111" stroke-width="1.2"/>
<line x1="253.4" y1="185.1" x2="266.2" y2="175.7" stroke="#111" stroke-width="1.2"/>
<line x1="253.4" y1="187.6" x2="266.2" y2="179" stroke="#111" stroke-width="1.2"/>
<line x1="253.4" y1="192" x2="266.2" y2="183" stroke="#111" stroke-width="1.2"/>
<circle cx="253.4" cy="171.4" r="2.2" fill="#e2103d"/>
<circle cx="266.2" cy="163.4" r="2.2" fill="#17688e"/>
<circle cx="253.4" cy="173.2" r="2.2" fill="#e2103d"/>
<circle cx="266.2" cy="167.4" r="2.2" fill="#17688e"/>
<circle cx="253.4" cy="180.4" r="2.2" fill="#e2103d"/>
<circle cx="266.2" cy="173.2" r="2.2" fill="#17688e"/>
<circle cx="253.4" cy="185.1" r="2.2" fill="#e2103d"/>
<circle cx="266.2" cy="175.7" r="2.2" fill="#17688e"/>
<circle cx="253.4" cy="187.6" r="2.2" fill="#e2103d"/>
<circle cx="266.2" cy="179" r="2.2" fill="#17688e"/>
<circle cx="253.4" cy="192" r="2.2" fill="#e2103d"/>
<circle cx="266.2" cy="183" r="2.2" fill="#17688e"/>
<line x1="287.8" y1="173.5" x2="300.5" y2="174.8" stroke="#111" stroke-width="1.2"/>
<line x1="287.8" y1="179.1" x2="300.5" y2="171.5" stroke="#111" stroke-width="1.2"/>
<line x1="287.8" y1="189" x2="300.5" y2="180.5" stroke="#111" stroke-width="1.2"/>
<line x1="287.8" y1="189.4" x2="300.5" y2="183.8" stroke="#111" stroke-width="1.2"/>
<line x1="287.8" y1="189.4" x2="300.5" y2="195.4" stroke="#111" stroke-width="1.2"/>
<line x1="287.8" y1="201.2" x2="300.5" y2="188.9" stroke="#111" stroke-width="1.2"/>
<line x1="287.8" y1="201.2" x2="300.5" y2="192.1" stroke="#111" stroke-width="1.2"/>
<circle cx="287.8" cy="173.5" r="2.2" fill="#e2103d"/>
<circle cx="300.5" cy="174.8" r="2.2" fill="#17688e"/>
<circle cx="287.8" cy="179.1" r="2.2" fill="#e2103d"/>
<circle cx="300.5" cy="171.5" r="2.2" fill="#17688e"/>
<circle cx="287.8" cy="189" r="2.2" fill="#e2103d"/>
<circle cx="300.5" cy="180.5" r="2.2" fill="#17688e"/>
<circle cx="287.8" cy="189.4" r="2.2" fill="#e2103d"/>
<circle cx="300.5" cy="183.8" r="2.2" fill="#17688e"/>
<circle cx="287.8" cy="189.4" r="2.2" fill="#e2103d"/>
<circle cx="300.5" cy="195.4" r="2.2" fill="#17688e"/>
<circle cx="287.8" cy="201.2" r="2.2" fill="#e2103d"/>
<circle cx="300.5" cy="188.9" r="2.2" fill="#17688e"/>
<circle cx="287.8" cy="201.2" r="2.2" fill="#e2103d"/>
<circle cx="300.5" cy="192.1" r="2.2" fill="#17688e"/>
<line x1="349.4" y1="180.3" x2="413.4" y2="180.3" stroke="#7c7c7c" stroke-width="1" stroke-dasharray="1.2 1.1"/>
<path d="M349.4 126.9V204H412.9" fill="none" stroke="#1a1a1a" stroke-width="1.2"/>
<line x1="346.2" y1="131.3" x2="349.4" y2="131.3" stroke="#1a1a1a" stroke-width="1.1"/>
<text x="340.1" y="134.9" font-size="8.4" text-anchor="end" fill="#1a1a1a" textLength="8.4" lengthAdjust="spacingAndGlyphs">10</text>
<text x="340.3" y="132" font-size="5.6" fill="#1a1a1a">4</text>
<line x1="346.2" y1="155.53" x2="349.4" y2="155.53" stroke="#1a1a1a" stroke-width="1.1"/>
<text x="340.1" y="159.13" font-size="8.4" text-anchor="end" fill="#1a1a1a" textLength="8.4" lengthAdjust="spacingAndGlyphs">10</text>
<text x="340.3" y="156.23" font-size="5.6" fill="#1a1a1a">3</text>
<line x1="346.2" y1="179.77" x2="349.4" y2="179.77" stroke="#1a1a1a" stroke-width="1.1"/>
<text x="340.1" y="183.37" font-size="8.4" text-anchor="end" fill="#1a1a1a" textLength="8.4" lengthAdjust="spacingAndGlyphs">10</text>
<text x="340.3" y="180.47" font-size="5.6" fill="#1a1a1a">2</text>
<line x1="346.2" y1="204" x2="349.4" y2="204" stroke="#1a1a1a" stroke-width="1.1"/>
<text x="340.1" y="207.6" font-size="8.4" text-anchor="end" fill="#1a1a1a" textLength="8.4" lengthAdjust="spacingAndGlyphs">10</text>
<text x="340.3" y="204.7" font-size="5.6" fill="#1a1a1a">1</text>
<line x1="364.1" y1="204" x2="364.1" y2="206.3" stroke="#1a1a1a" stroke-width="1.1"/>
<text x="364.1" y="216.5" font-size="7.9" text-anchor="middle" fill="#1a1a1a">Raji</text>
<text x="364.1" y="226.3" font-size="7.9" text-anchor="middle" fill="#1a1a1a">CD19+</text>
<line x1="398.6" y1="204" x2="398.6" y2="206.3" stroke="#1a1a1a" stroke-width="1.1"/>
<text x="398.6" y="216.5" font-size="7.9" text-anchor="middle" fill="#1a1a1a">K562</text>
<text x="398.6" y="226.3" font-size="7.9" text-anchor="middle" fill="#1a1a1a">CD19+</text>
<text transform="translate(324.7,164.5) rotate(-90)" font-size="9" text-anchor="middle" fill="#1a1a1a" stroke="#1a1a1a" stroke-width="0.2" textLength="39.1" lengthAdjust="spacingAndGlyphs">IL-9 (pg/ml)</text>
<path d="M357.8 133.4V131.2H370.6V133.4" fill="none" stroke="#2a2a2a" stroke-width="1.1"/>
<text x="364.9" y="129.2" font-size="7.2" font-style="italic" text-anchor="middle" fill="#222">n.s.</text>
<path d="M392.2 133.4V131.2H404.9V133.4" fill="none" stroke="#2a2a2a" stroke-width="1.1"/>
<text x="399.25" y="129.2" font-size="7.2" font-style="italic" text-anchor="middle" fill="#222">n.s.</text>
<line x1="357.8" y1="148.8" x2="370.6" y2="159.5" stroke="#111" stroke-width="1.2"/>
<line x1="357.8" y1="159.5" x2="370.6" y2="145.7" stroke="#111" stroke-width="1.2"/>
<line x1="357.8" y1="163" x2="370.6" y2="179" stroke="#111" stroke-width="1.2"/>
<line x1="357.8" y1="166.3" x2="370.6" y2="177" stroke="#111" stroke-width="1.2"/>
<line x1="357.8" y1="169.6" x2="370.6" y2="179.5" stroke="#111" stroke-width="1.2"/>
<line x1="357.8" y1="174.3" x2="370.6" y2="179.8" stroke="#111" stroke-width="1.2"/>
<line x1="357.8" y1="180.2" x2="370.6" y2="180" stroke="#111" stroke-width="1.2"/>
<circle cx="357.8" cy="148.8" r="2.2" fill="#e2103d"/>
<circle cx="370.6" cy="159.5" r="2.2" fill="#17688e"/>
<circle cx="357.8" cy="159.5" r="2.2" fill="#e2103d"/>
<circle cx="370.6" cy="145.7" r="2.2" fill="#17688e"/>
<circle cx="357.8" cy="163" r="2.2" fill="#e2103d"/>
<circle cx="370.6" cy="179" r="2.2" fill="#17688e"/>
<circle cx="357.8" cy="166.3" r="2.2" fill="#e2103d"/>
<circle cx="370.6" cy="177" r="2.2" fill="#17688e"/>
<circle cx="357.8" cy="169.6" r="2.2" fill="#e2103d"/>
<circle cx="370.6" cy="179.5" r="2.2" fill="#17688e"/>
<circle cx="357.8" cy="174.3" r="2.2" fill="#e2103d"/>
<circle cx="370.6" cy="179.8" r="2.2" fill="#17688e"/>
<circle cx="357.8" cy="180.2" r="2.2" fill="#e2103d"/>
<circle cx="370.6" cy="180" r="2.2" fill="#17688e"/>
<line x1="392.2" y1="160.5" x2="404.9" y2="180" stroke="#111" stroke-width="1.2"/>
<line x1="392.2" y1="162.9" x2="404.9" y2="180" stroke="#111" stroke-width="1.2"/>
<line x1="392.2" y1="172.6" x2="404.9" y2="173.4" stroke="#111" stroke-width="1.2"/>
<line x1="392.2" y1="176.7" x2="404.9" y2="180" stroke="#111" stroke-width="1.2"/>
<line x1="392.2" y1="180" x2="404.9" y2="180" stroke="#111" stroke-width="1.2"/>
<circle cx="392.2" cy="160.5" r="2.2" fill="#e2103d"/>
<circle cx="404.9" cy="180" r="2.2" fill="#17688e"/>
<circle cx="392.2" cy="162.9" r="2.2" fill="#e2103d"/>
<circle cx="404.9" cy="180" r="2.2" fill="#17688e"/>
<circle cx="392.2" cy="172.6" r="2.2" fill="#e2103d"/>
<circle cx="404.9" cy="173.4" r="2.2" fill="#17688e"/>
<circle cx="392.2" cy="176.7" r="2.2" fill="#e2103d"/>
<circle cx="404.9" cy="180" r="2.2" fill="#17688e"/>
<circle cx="392.2" cy="180" r="2.2" fill="#e2103d"/>
<circle cx="404.9" cy="180" r="2.2" fill="#17688e"/>
<line x1="33.7" y1="298.5" x2="97.7" y2="298.5" stroke="#7c7c7c" stroke-width="1" stroke-dasharray="1.2 1.1"/>
<path d="M33.7 243.4V320.3H97.2" fill="none" stroke="#1a1a1a" stroke-width="1.2"/>
<line x1="30.5" y1="247.8" x2="33.7" y2="247.8" stroke="#1a1a1a" stroke-width="1.1"/>
<text x="24.4" y="251.4" font-size="8.4" text-anchor="end" fill="#1a1a1a" textLength="8.4" lengthAdjust="spacingAndGlyphs">10</text>
<text x="24.6" y="248.5" font-size="5.6" fill="#1a1a1a">2</text>
<line x1="30.5" y1="271.97" x2="33.7" y2="271.97" stroke="#1a1a1a" stroke-width="1.1"/>
<text x="24.4" y="275.57" font-size="8.4" text-anchor="end" fill="#1a1a1a" textLength="8.4" lengthAdjust="spacingAndGlyphs">10</text>
<text x="24.6" y="272.67" font-size="5.6" fill="#1a1a1a">1</text>
<line x1="30.5" y1="296.13" x2="33.7" y2="296.13" stroke="#1a1a1a" stroke-width="1.1"/>
<text x="24.4" y="299.73" font-size="8.4" text-anchor="end" fill="#1a1a1a" textLength="8.4" lengthAdjust="spacingAndGlyphs">10</text>
<text x="24.6" y="296.83" font-size="5.6" fill="#1a1a1a">0</text>
<line x1="30.5" y1="320.3" x2="33.7" y2="320.3" stroke="#1a1a1a" stroke-width="1.1"/>
<text x="21.8" y="323.9" font-size="8.4" text-anchor="end" fill="#1a1a1a" textLength="8.4" lengthAdjust="spacingAndGlyphs">10</text>
<text x="22" y="321" font-size="5.6" fill="#1a1a1a">&#8722;1</text>
<line x1="48.4" y1="320.3" x2="48.4" y2="322.6" stroke="#1a1a1a" stroke-width="1.1"/>
<text x="48.4" y="331.9" font-size="7.9" text-anchor="middle" fill="#1a1a1a">Raji</text>
<text x="48.4" y="341.7" font-size="7.9" text-anchor="middle" fill="#1a1a1a">CD19+</text>
<line x1="82.9" y1="320.3" x2="82.9" y2="322.6" stroke="#1a1a1a" stroke-width="1.1"/>
<text x="82.9" y="331.9" font-size="7.9" text-anchor="middle" fill="#1a1a1a">K562</text>
<text x="82.9" y="341.7" font-size="7.9" text-anchor="middle" fill="#1a1a1a">CD19+</text>
<text transform="translate(9,281.5) rotate(-90)" font-size="9" text-anchor="middle" fill="#1a1a1a" stroke="#1a1a1a" stroke-width="0.2" textLength="44.1" lengthAdjust="spacingAndGlyphs">IL-17 (pg/ml)</text>
<path d="M42.1 249.9V247.7H54.9V249.9" fill="none" stroke="#2a2a2a" stroke-width="1.1"/>
<text x="49.2" y="245.7" font-size="7.2" font-style="italic" text-anchor="middle" fill="#222">n.s.</text>
<path d="M76.5 249.9V247.7H89.2V249.9" fill="none" stroke="#2a2a2a" stroke-width="1.1"/>
<text x="83.55" y="245.7" font-size="7.2" font-style="italic" text-anchor="middle" fill="#222">n.s.</text>
<line x1="42.1" y1="298.5" x2="54.9" y2="296.2" stroke="#111" stroke-width="1.2"/>
<line x1="42.1" y1="298.5" x2="54.9" y2="298" stroke="#111" stroke-width="1.2"/>
<circle cx="42.1" cy="298.5" r="2.2" fill="#e2103d"/>
<circle cx="54.9" cy="296.2" r="2.2" fill="#17688e"/>
<circle cx="42.1" cy="298.5" r="2.2" fill="#e2103d"/>
<circle cx="54.9" cy="298" r="2.2" fill="#17688e"/>
<line x1="76.5" y1="267.8" x2="89.2" y2="271" stroke="#111" stroke-width="1.2"/>
<line x1="76.5" y1="269.6" x2="89.2" y2="271.5" stroke="#111" stroke-width="1.2"/>
<line x1="76.5" y1="271.7" x2="89.2" y2="272.1" stroke="#111" stroke-width="1.2"/>
<line x1="76.5" y1="279.3" x2="89.2" y2="271.2" stroke="#111" stroke-width="1.2"/>
<line x1="76.5" y1="279.3" x2="89.2" y2="280.9" stroke="#111" stroke-width="1.2"/>
<line x1="76.5" y1="287.3" x2="89.2" y2="289.4" stroke="#111" stroke-width="1.2"/>
<line x1="76.5" y1="288.4" x2="89.2" y2="298.5" stroke="#111" stroke-width="1.2"/>
<line x1="76.5" y1="298.5" x2="89.2" y2="298.5" stroke="#111" stroke-width="1.2"/>
<circle cx="76.5" cy="267.8" r="2.2" fill="#e2103d"/>
<circle cx="89.2" cy="271" r="2.2" fill="#17688e"/>
<circle cx="76.5" cy="269.6" r="2.2" fill="#e2103d"/>
<circle cx="89.2" cy="271.5" r="2.2" fill="#17688e"/>
<circle cx="76.5" cy="271.7" r="2.2" fill="#e2103d"/>
<circle cx="89.2" cy="272.1" r="2.2" fill="#17688e"/>
<circle cx="76.5" cy="279.3" r="2.2" fill="#e2103d"/>
<circle cx="89.2" cy="271.2" r="2.2" fill="#17688e"/>
<circle cx="76.5" cy="279.3" r="2.2" fill="#e2103d"/>
<circle cx="89.2" cy="280.9" r="2.2" fill="#17688e"/>
<circle cx="76.5" cy="287.3" r="2.2" fill="#e2103d"/>
<circle cx="89.2" cy="289.4" r="2.2" fill="#17688e"/>
<circle cx="76.5" cy="288.4" r="2.2" fill="#e2103d"/>
<circle cx="89.2" cy="298.5" r="2.2" fill="#17688e"/>
<circle cx="76.5" cy="298.5" r="2.2" fill="#e2103d"/>
<circle cx="89.2" cy="298.5" r="2.2" fill="#17688e"/>
<path d="M140.2 243.4V320.3H203.7" fill="none" stroke="#1a1a1a" stroke-width="1.2"/>
<line x1="137" y1="247.8" x2="140.2" y2="247.8" stroke="#1a1a1a" stroke-width="1.1"/>
<text x="130.9" y="251.4" font-size="8.4" text-anchor="end" fill="#1a1a1a" textLength="8.4" lengthAdjust="spacingAndGlyphs">10</text>
<text x="131.1" y="248.5" font-size="5.6" fill="#1a1a1a">3</text>
<line x1="137" y1="320.3" x2="140.2" y2="320.3" stroke="#1a1a1a" stroke-width="1.1"/>
<text x="130.9" y="323.9" font-size="8.4" text-anchor="end" fill="#1a1a1a" textLength="8.4" lengthAdjust="spacingAndGlyphs">10</text>
<text x="131.1" y="321" font-size="5.6" fill="#1a1a1a">2</text>
<line x1="154.9" y1="320.3" x2="154.9" y2="322.6" stroke="#1a1a1a" stroke-width="1.1"/>
<text x="154.9" y="331.9" font-size="7.9" text-anchor="middle" fill="#1a1a1a">Raji</text>
<text x="154.9" y="341.7" font-size="7.9" text-anchor="middle" fill="#1a1a1a">CD19+</text>
<line x1="189.4" y1="320.3" x2="189.4" y2="322.6" stroke="#1a1a1a" stroke-width="1.1"/>
<text x="189.4" y="331.9" font-size="7.9" text-anchor="middle" fill="#1a1a1a">K562</text>
<text x="189.4" y="341.7" font-size="7.9" text-anchor="middle" fill="#1a1a1a">CD19+</text>
<text transform="translate(115.5,281.3) rotate(-90)" font-size="9" text-anchor="middle" fill="#1a1a1a" stroke="#1a1a1a" stroke-width="0.2" textLength="44" lengthAdjust="spacingAndGlyphs">IL-21 (pg/ml)</text>
<path d="M148.6 249.9V247.7H161.4V249.9" fill="none" stroke="#2a2a2a" stroke-width="1.1"/>
<text x="155.7" y="245.7" font-size="7.2" font-style="italic" text-anchor="middle" fill="#222">n.s.</text>
<path d="M183 249.9V247.7H195.7V249.9" fill="none" stroke="#2a2a2a" stroke-width="1.1"/>
<text x="190.05" y="245.7" font-size="7.2" font-style="italic" text-anchor="middle" fill="#222">n.s.</text>
<line x1="148.6" y1="259.2" x2="161.4" y2="257.6" stroke="#111" stroke-width="1.2"/>
<line x1="148.6" y1="264.6" x2="161.4" y2="260" stroke="#111" stroke-width="1.2"/>
<line x1="148.6" y1="271.9" x2="161.4" y2="275.5" stroke="#111" stroke-width="1.2"/>
<line x1="148.6" y1="273.8" x2="161.4" y2="270.6" stroke="#111" stroke-width="1.2"/>
<line x1="148.6" y1="276.3" x2="161.4" y2="272.5" stroke="#111" stroke-width="1.2"/>
<line x1="148.6" y1="292" x2="161.4" y2="282.8" stroke="#111" stroke-width="1.2"/>
<circle cx="148.6" cy="259.2" r="2.2" fill="#e2103d"/>
<circle cx="161.4" cy="257.6" r="2.2" fill="#17688e"/>
<circle cx="148.6" cy="264.6" r="2.2" fill="#e2103d"/>
<circle cx="161.4" cy="260" r="2.2" fill="#17688e"/>
<circle cx="148.6" cy="271.9" r="2.2" fill="#e2103d"/>
<circle cx="161.4" cy="275.5" r="2.2" fill="#17688e"/>
<circle cx="148.6" cy="273.8" r="2.2" fill="#e2103d"/>
<circle cx="161.4" cy="270.6" r="2.2" fill="#17688e"/>
<circle cx="148.6" cy="276.3" r="2.2" fill="#e2103d"/>
<circle cx="161.4" cy="272.5" r="2.2" fill="#17688e"/>
<circle cx="148.6" cy="292" r="2.2" fill="#e2103d"/>
<circle cx="161.4" cy="282.8" r="2.2" fill="#17688e"/>
<line x1="183" y1="254.8" x2="195.7" y2="253.3" stroke="#111" stroke-width="1.2"/>
<line x1="183" y1="257.8" x2="195.7" y2="255.6" stroke="#111" stroke-width="1.2"/>
<line x1="183" y1="260.9" x2="195.7" y2="257.8" stroke="#111" stroke-width="1.2"/>
<line x1="183" y1="263.2" x2="195.7" y2="265" stroke="#111" stroke-width="1.2"/>
<line x1="183" y1="268.1" x2="195.7" y2="270.7" stroke="#111" stroke-width="1.2"/>
<line x1="183" y1="282.8" x2="195.7" y2="268.5" stroke="#111" stroke-width="1.2"/>
<line x1="183" y1="284.7" x2="195.7" y2="278.7" stroke="#111" stroke-width="1.2"/>
<circle cx="183" cy="254.8" r="2.2" fill="#e2103d"/>
<circle cx="195.7" cy="253.3" r="2.2" fill="#17688e"/>
<circle cx="183" cy="257.8" r="2.2" fill="#e2103d"/>
<circle cx="195.7" cy="255.6" r="2.2" fill="#17688e"/>
<circle cx="183" cy="260.9" r="2.2" fill="#e2103d"/>
<circle cx="195.7" cy="257.8" r="2.2" fill="#17688e"/>
<circle cx="183" cy="263.2" r="2.2" fill="#e2103d"/>
<circle cx="195.7" cy="265" r="2.2" fill="#17688e"/>
<circle cx="183" cy="268.1" r="2.2" fill="#e2103d"/>
<circle cx="195.7" cy="270.7" r="2.2" fill="#17688e"/>
<circle cx="183" cy="282.8" r="2.2" fill="#e2103d"/>
<circle cx="195.7" cy="268.5" r="2.2" fill="#17688e"/>
<circle cx="183" cy="284.7" r="2.2" fill="#e2103d"/>
<circle cx="195.7" cy="278.7" r="2.2" fill="#17688e"/>
<path d="M245 243.4V320.3H308.5" fill="none" stroke="#1a1a1a" stroke-width="1.2"/>
<line x1="241.8" y1="247.8" x2="245" y2="247.8" stroke="#1a1a1a" stroke-width="1.1"/>
<text x="235.7" y="251.4" font-size="8.4" text-anchor="end" fill="#1a1a1a" textLength="8.4" lengthAdjust="spacingAndGlyphs">10</text>
<text x="235.9" y="248.5" font-size="5.6" fill="#1a1a1a">3</text>
<line x1="241.8" y1="284.05" x2="245" y2="284.05" stroke="#1a1a1a" stroke-width="1.1"/>
<text x="235.7" y="287.65" font-size="8.4" text-anchor="end" fill="#1a1a1a" textLength="8.4" lengthAdjust="spacingAndGlyphs">10</text>
<text x="235.9" y="284.75" font-size="5.6" fill="#1a1a1a">2</text>
<line x1="241.8" y1="320.3" x2="245" y2="320.3" stroke="#1a1a1a" stroke-width="1.1"/>
<text x="235.7" y="323.9" font-size="8.4" text-anchor="end" fill="#1a1a1a" textLength="8.4" lengthAdjust="spacingAndGlyphs">10</text>
<text x="235.9" y="321" font-size="5.6" fill="#1a1a1a">1</text>
<line x1="259.7" y1="320.3" x2="259.7" y2="322.6" stroke="#1a1a1a" stroke-width="1.1"/>
<text x="259.7" y="331.9" font-size="7.9" text-anchor="middle" fill="#1a1a1a">Raji</text>
<text x="259.7" y="341.7" font-size="7.9" text-anchor="middle" fill="#1a1a1a">CD19+</text>
<line x1="294.2" y1="320.3" x2="294.2" y2="322.6" stroke="#1a1a1a" stroke-width="1.1"/>
<text x="294.2" y="331.9" font-size="7.9" text-anchor="middle" fill="#1a1a1a">K562</text>
<text x="294.2" y="341.7" font-size="7.9" text-anchor="middle" fill="#1a1a1a">CD19+</text>
<text transform="translate(220.3,281.8) rotate(-90)" font-size="9" text-anchor="middle" fill="#1a1a1a" stroke="#1a1a1a" stroke-width="0.2" textLength="44" lengthAdjust="spacingAndGlyphs">IL-10 (pg/ml)</text>
<path d="M253.4 249.9V247.7H266.2V249.9" fill="none" stroke="#2a2a2a" stroke-width="1.1"/>
<circle cx="254.78" cy="244.1" r="1.25" fill="#2a2a2a"/>
<circle cx="258.12" cy="244.1" r="1.25" fill="#2a2a2a"/>
<circle cx="261.48" cy="244.1" r="1.25" fill="#2a2a2a"/>
<circle cx="264.82" cy="244.1" r="1.25" fill="#2a2a2a"/>
<path d="M287.8 249.9V247.7H300.5V249.9" fill="none" stroke="#2a2a2a" stroke-width="1.1"/>
<circle cx="289.12" cy="244.1" r="1.25" fill="#2a2a2a"/>
<circle cx="292.47" cy="244.1" r="1.25" fill="#2a2a2a"/>
<circle cx="295.82" cy="244.1" r="1.25" fill="#2a2a2a"/>
<circle cx="299.17" cy="244.1" r="1.25" fill="#2a2a2a"/>
<line x1="253.4" y1="263.3" x2="266.2" y2="290.4" stroke="#111" stroke-width="1.2"/>
<line x1="253.4" y1="269.8" x2="266.2" y2="300.6" stroke="#111" stroke-width="1.2"/>
<line x1="253.4" y1="273" x2="266.2" y2="303.9" stroke="#111" stroke-width="1.2"/>
<line x1="253.4" y1="276.3" x2="266.2" y2="306.3" stroke="#111" stroke-width="1.2"/>
<line x1="253.4" y1="279.5" x2="266.2" y2="309.5" stroke="#111" stroke-width="1.2"/>
<line x1="253.4" y1="287.6" x2="266.2" y2="312" stroke="#111" stroke-width="1.2"/>
<circle cx="253.4" cy="263.3" r="2.2" fill="#e2103d"/>
<circle cx="266.2" cy="290.4" r="2.2" fill="#17688e"/>
<circle cx="253.4" cy="269.8" r="2.2" fill="#e2103d"/>
<circle cx="266.2" cy="300.6" r="2.2" fill="#17688e"/>
<circle cx="253.4" cy="273" r="2.2" fill="#e2103d"/>
<circle cx="266.2" cy="303.9" r="2.2" fill="#17688e"/>
<circle cx="253.4" cy="276.3" r="2.2" fill="#e2103d"/>
<circle cx="266.2" cy="306.3" r="2.2" fill="#17688e"/>
<circle cx="253.4" cy="279.5" r="2.2" fill="#e2103d"/>
<circle cx="266.2" cy="309.5" r="2.2" fill="#17688e"/>
<circle cx="253.4" cy="287.6" r="2.2" fill="#e2103d"/>
<circle cx="266.2" cy="312" r="2.2" fill="#17688e"/>
<line x1="287.8" y1="255.3" x2="300.5" y2="300.5" stroke="#111" stroke-width="1.2"/>
<line x1="287.8" y1="259.8" x2="300.5" y2="289.8" stroke="#111" stroke-width="1.2"/>
<line x1="287.8" y1="263.9" x2="300.5" y2="297.3" stroke="#111" stroke-width="1.2"/>
<line x1="287.8" y1="273.4" x2="300.5" y2="307.4" stroke="#111" stroke-width="1.2"/>
<line x1="287.8" y1="282.2" x2="300.5" y2="310.6" stroke="#111" stroke-width="1.2"/>
<line x1="287.8" y1="285.4" x2="300.5" y2="315" stroke="#111" stroke-width="1.2"/>
<line x1="287.8" y1="288.5" x2="300.5" y2="307.4" stroke="#111" stroke-width="1.2"/>
<circle cx="287.8" cy="255.3" r="2.2" fill="#e2103d"/>
<circle cx="300.5" cy="300.5" r="2.2" fill="#17688e"/>
<circle cx="287.8" cy="259.8" r="2.2" fill="#e2103d"/>
<circle cx="300.5" cy="289.8" r="2.2" fill="#17688e"/>
<circle cx="287.8" cy="263.9" r="2.2" fill="#e2103d"/>
<circle cx="300.5" cy="297.3" r="2.2" fill="#17688e"/>
<circle cx="287.8" cy="273.4" r="2.2" fill="#e2103d"/>
<circle cx="300.5" cy="307.4" r="2.2" fill="#17688e"/>
<circle cx="287.8" cy="282.2" r="2.2" fill="#e2103d"/>
<circle cx="300.5" cy="310.6" r="2.2" fill="#17688e"/>
<circle cx="287.8" cy="285.4" r="2.2" fill="#e2103d"/>
<circle cx="300.5" cy="315" r="2.2" fill="#17688e"/>
<circle cx="287.8" cy="288.5" r="2.2" fill="#e2103d"/>
<circle cx="300.5" cy="307.4" r="2.2" fill="#17688e"/>
<line x1="349.4" y1="281" x2="413.4" y2="281" stroke="#7a8894" stroke-width="1" stroke-dasharray="1.2 1.1"/>
<line x1="349.4" y1="284.3" x2="413.4" y2="284.3" stroke="#857c7c" stroke-width="1" stroke-dasharray="1.2 1.1"/>
<line x1="349.4" y1="306.4" x2="413.4" y2="306.4" stroke="#707070" stroke-width="1" stroke-dasharray="1.2 1.1"/>
<path d="M349.4 243.4V320.3H412.9" fill="none" stroke="#1a1a1a" stroke-width="1.2"/>
<line x1="346.2" y1="247.8" x2="349.4" y2="247.8" stroke="#1a1a1a" stroke-width="1.1"/>
<text x="340.1" y="251.4" font-size="8.4" text-anchor="end" fill="#1a1a1a" textLength="8.4" lengthAdjust="spacingAndGlyphs">10</text>
<text x="340.3" y="248.5" font-size="5.6" fill="#1a1a1a">3</text>
<line x1="346.2" y1="284.05" x2="349.4" y2="284.05" stroke="#1a1a1a" stroke-width="1.1"/>
<text x="340.1" y="287.65" font-size="8.4" text-anchor="end" fill="#1a1a1a" textLength="8.4" lengthAdjust="spacingAndGlyphs">10</text>
<text x="340.3" y="284.75" font-size="5.6" fill="#1a1a1a">2</text>
<line x1="346.2" y1="320.3" x2="349.4" y2="320.3" stroke="#1a1a1a" stroke-width="1.1"/>
<text x="340.1" y="323.9" font-size="8.4" text-anchor="end" fill="#1a1a1a" textLength="8.4" lengthAdjust="spacingAndGlyphs">10</text>
<text x="340.3" y="321" font-size="5.6" fill="#1a1a1a">1</text>
<line x1="364.1" y1="320.3" x2="364.1" y2="322.6" stroke="#1a1a1a" stroke-width="1.1"/>
<text x="364.1" y="331.9" font-size="7.9" text-anchor="middle" fill="#1a1a1a">Raji</text>
<text x="364.1" y="341.7" font-size="7.9" text-anchor="middle" fill="#1a1a1a">CD19+</text>
<line x1="398.6" y1="320.3" x2="398.6" y2="322.6" stroke="#1a1a1a" stroke-width="1.1"/>
<text x="398.6" y="331.9" font-size="7.9" text-anchor="middle" fill="#1a1a1a">K562</text>
<text x="398.6" y="341.7" font-size="7.9" text-anchor="middle" fill="#1a1a1a">CD19+</text>
<text transform="translate(324.7,281.5) rotate(-90)" font-size="9" text-anchor="middle" fill="#1a1a1a" stroke="#1a1a1a" stroke-width="0.2" textLength="44.5" lengthAdjust="spacingAndGlyphs">IL-22 (pg/ml)</text>
<path d="M357.8 249.9V247.7H370.6V249.9" fill="none" stroke="#2a2a2a" stroke-width="1.1"/>
<circle cx="364.2" cy="244.1" r="1.25" fill="#2a2a2a"/>
<path d="M392.2 249.9V247.7H404.9V249.9" fill="none" stroke="#2a2a2a" stroke-width="1.1"/>
<circle cx="398.55" cy="244.1" r="1.25" fill="#2a2a2a"/>
<line x1="357.8" y1="258.5" x2="370.6" y2="299.7" stroke="#111" stroke-width="1.2"/>
<line x1="357.8" y1="265.5" x2="370.6" y2="281" stroke="#111" stroke-width="1.2"/>
<line x1="357.8" y1="265.5" x2="370.6" y2="305.6" stroke="#111" stroke-width="1.2"/>
<line x1="357.8" y1="274.8" x2="370.6" y2="305.6" stroke="#111" stroke-width="1.2"/>
<line x1="357.8" y1="284.3" x2="370.6" y2="284.5" stroke="#111" stroke-width="1.2"/>
<line x1="357.8" y1="284.3" x2="370.6" y2="299.7" stroke="#111" stroke-width="1.2"/>
<circle cx="357.8" cy="258.5" r="2.2" fill="#e2103d"/>
<circle cx="370.6" cy="299.7" r="2.2" fill="#17688e"/>
<circle cx="357.8" cy="265.5" r="2.2" fill="#e2103d"/>
<circle cx="370.6" cy="281" r="2.2" fill="#17688e"/>
<circle cx="357.8" cy="265.5" r="2.2" fill="#e2103d"/>
<circle cx="370.6" cy="305.6" r="2.2" fill="#17688e"/>
<circle cx="357.8" cy="274.8" r="2.2" fill="#e2103d"/>
<circle cx="370.6" cy="305.6" r="2.2" fill="#17688e"/>
<circle cx="357.8" cy="284.3" r="2.2" fill="#e2103d"/>
<circle cx="370.6" cy="284.5" r="2.2" fill="#17688e"/>
<circle cx="357.8" cy="284.3" r="2.2" fill="#e2103d"/>
<circle cx="370.6" cy="299.7" r="2.2" fill="#17688e"/>
<line x1="392.2" y1="262.3" x2="404.9" y2="280.7" stroke="#111" stroke-width="1.2"/>
<line x1="392.2" y1="265" x2="404.9" y2="284.5" stroke="#111" stroke-width="1.2"/>
<line x1="392.2" y1="267.7" x2="404.9" y2="305.6" stroke="#111" stroke-width="1.2"/>
<line x1="392.2" y1="274.2" x2="404.9" y2="305.6" stroke="#111" stroke-width="1.2"/>
<line x1="392.2" y1="281.3" x2="404.9" y2="284.5" stroke="#111" stroke-width="1.2"/>
<line x1="392.2" y1="283.4" x2="404.9" y2="284.5" stroke="#111" stroke-width="1.2"/>
<line x1="392.2" y1="267.7" x2="404.9" y2="282.5" stroke="#111" stroke-width="1.2"/>
<circle cx="392.2" cy="262.3" r="2.2" fill="#e2103d"/>
<circle cx="404.9" cy="280.7" r="2.2" fill="#17688e"/>
<circle cx="392.2" cy="265" r="2.2" fill="#e2103d"/>
<circle cx="404.9" cy="284.5" r="2.2" fill="#17688e"/>
<circle cx="392.2" cy="267.7" r="2.2" fill="#e2103d"/>
<circle cx="404.9" cy="305.6" r="2.2" fill="#17688e"/>
<circle cx="392.2" cy="274.2" r="2.2" fill="#e2103d"/>
<circle cx="404.9" cy="305.6" r="2.2" fill="#17688e"/>
<circle cx="392.2" cy="281.3" r="2.2" fill="#e2103d"/>
<circle cx="404.9" cy="284.5" r="2.2" fill="#17688e"/>
<circle cx="392.2" cy="283.4" r="2.2" fill="#e2103d"/>
<circle cx="404.9" cy="284.5" r="2.2" fill="#17688e"/>
<circle cx="392.2" cy="267.7" r="2.2" fill="#e2103d"/>
<circle cx="404.9" cy="282.5" r="2.2" fill="#17688e"/>
<circle cx="448.3" cy="226.9" r="2.2" fill="#e2103d"/>
<text x="453.7" y="229.6" font-size="7.9" fill="#1a1a1a">N1</text>
<circle cx="448.3" cy="236.2" r="2.2" fill="#17688e"/>
<text x="453.7" y="238.9" font-size="7.9" fill="#1a1a1a">Control</text>
<defs>
<radialGradient id="blob" cx="0.5" cy="0.5" r="0.5">
<stop offset="0" stop-color="#b0b0b0"/>
<stop offset="0.09" stop-color="#555"/>
<stop offset="0.22" stop-color="#0a0a0a"/>
<stop offset="0.48" stop-color="#151515"/>
<stop offset="0.64" stop-color="#4a4a4a"/>
<stop offset="0.8" stop-color="#a5a5a5"/>
<stop offset="1" stop-color="#e0e0e0" stop-opacity="0"/>
</radialGradient>
</defs>
<text x="81.7" y="377.8" font-size="8.4" text-anchor="middle" fill="#1a1a1a" stroke="#1a1a1a" stroke-width="0.15" textLength="51.1" lengthAdjust="spacingAndGlyphs">Unstimulated</text>
<text x="163.3" y="377.8" font-size="8.4" text-anchor="middle" fill="#1a1a1a" stroke="#1a1a1a" stroke-width="0.15" textLength="43.1" lengthAdjust="spacingAndGlyphs">Raji CD19+</text>
<text x="244.7" y="377.8" font-size="8.4" text-anchor="middle" fill="#1a1a1a" stroke="#1a1a1a" stroke-width="0.15" textLength="61.9" lengthAdjust="spacingAndGlyphs">PMA/Ionomycin</text>
<line x1="41.9" y1="386.3" x2="44.3" y2="386.3" stroke="#111" stroke-width="0.95"/>
<line x1="42.7" y1="391.9" x2="44.3" y2="391.9" stroke="#111" stroke-width="0.95"/>
<line x1="41.9" y1="398.5" x2="44.3" y2="398.5" stroke="#111" stroke-width="0.95"/>
<line x1="42.7" y1="405.9" x2="44.3" y2="405.9" stroke="#111" stroke-width="0.95"/>
<line x1="41.9" y1="414.7" x2="44.3" y2="414.7" stroke="#111" stroke-width="0.95"/>
<line x1="42.7" y1="422.9" x2="44.3" y2="422.9" stroke="#111" stroke-width="0.95"/>
<line x1="41.9" y1="431" x2="44.3" y2="431" stroke="#111" stroke-width="0.95"/>
<line x1="42.7" y1="432.8" x2="44.3" y2="432.8" stroke="#111" stroke-width="0.95"/>
<line x1="42.7" y1="434.2" x2="44.3" y2="434.2" stroke="#111" stroke-width="0.95"/>
<line x1="42.7" y1="435.4" x2="44.3" y2="435.4" stroke="#111" stroke-width="0.95"/>
<line x1="42.7" y1="436.6" x2="44.3" y2="436.6" stroke="#111" stroke-width="0.95"/>
<line x1="42.7" y1="439.9" x2="44.3" y2="439.9" stroke="#111" stroke-width="0.95"/>
<line x1="41.9" y1="449.4" x2="44.3" y2="449.4" stroke="#111" stroke-width="0.95"/>
<line x1="46.4" y1="458.2" x2="46.4" y2="460.8" stroke="#111" stroke-width="0.95"/>
<line x1="59.4" y1="458.2" x2="59.4" y2="460.8" stroke="#111" stroke-width="0.95"/>
<line x1="61.2" y1="458.2" x2="61.2" y2="460.8" stroke="#111" stroke-width="0.95"/>
<line x1="62.7" y1="458.2" x2="62.7" y2="460.8" stroke="#111" stroke-width="0.95"/>
<line x1="64.2" y1="458.2" x2="64.2" y2="460.8" stroke="#111" stroke-width="0.95"/>
<line x1="66.7" y1="458.2" x2="66.7" y2="460.8" stroke="#111" stroke-width="0.95"/>
<line x1="71.5" y1="458.2" x2="71.5" y2="460.8" stroke="#111" stroke-width="0.95"/>
<line x1="81" y1="458.2" x2="81" y2="460.8" stroke="#111" stroke-width="0.95"/>
<line x1="90.6" y1="458.2" x2="90.6" y2="460.8" stroke="#111" stroke-width="0.95"/>
<line x1="100.1" y1="458.2" x2="100.1" y2="460.8" stroke="#111" stroke-width="0.95"/>
<line x1="110.5" y1="458.2" x2="110.5" y2="460.8" stroke="#111" stroke-width="0.95"/>
<circle cx="64.9" cy="433.6" r="6.2" fill="url(#blob)"/>
<line x1="72" y1="383.4" x2="72" y2="458.2" stroke="#6a6a6a" stroke-width="1.1"/>
<line x1="44.3" y1="426.8" x2="119.1" y2="426.8" stroke="#3a3a3a" stroke-width="1"/>
<rect x="44.3" y="383.4" width="74.8" height="74.8" fill="none" stroke="#0a0a0a" stroke-width="1.5"/>
<text x="47.6" y="392.3" font-size="8" fill="#1a1a1a" textLength="14.2" lengthAdjust="spacingAndGlyphs">0.02</text>
<text x="116.1" y="392.3" font-size="8" text-anchor="end" fill="#1a1a1a" textLength="14.2" lengthAdjust="spacingAndGlyphs">0.00</text>
<text x="47.6" y="455.1" font-size="8" fill="#1a1a1a" textLength="14.2" lengthAdjust="spacingAndGlyphs">99.9</text>
<text x="116.1" y="455.1" font-size="8" text-anchor="end" fill="#1a1a1a" textLength="14.2" lengthAdjust="spacingAndGlyphs">0.06</text>
<line x1="123.5" y1="386.3" x2="125.9" y2="386.3" stroke="#111" stroke-width="0.95"/>
<line x1="124.3" y1="391.9" x2="125.9" y2="391.9" stroke="#111" stroke-width="0.95"/>
<line x1="123.5" y1="398.5" x2="125.9" y2="398.5" stroke="#111" stroke-width="0.95"/>
<line x1="124.3" y1="405.9" x2="125.9" y2="405.9" stroke="#111" stroke-width="0.95"/>
<line x1="123.5" y1="414.7" x2="125.9" y2="414.7" stroke="#111" stroke-width="0.95"/>
<line x1="124.3" y1="422.9" x2="125.9" y2="422.9" stroke="#111" stroke-width="0.95"/>
<line x1="123.5" y1="431" x2="125.9" y2="431" stroke="#111" stroke-width="0.95"/>
<line x1="124.3" y1="432.8" x2="125.9" y2="432.8" stroke="#111" stroke-width="0.95"/>
<line x1="124.3" y1="434.2" x2="125.9" y2="434.2" stroke="#111" stroke-width="0.95"/>
<line x1="124.3" y1="435.4" x2="125.9" y2="435.4" stroke="#111" stroke-width="0.95"/>
<line x1="124.3" y1="436.6" x2="125.9" y2="436.6" stroke="#111" stroke-width="0.95"/>
<line x1="124.3" y1="439.9" x2="125.9" y2="439.9" stroke="#111" stroke-width="0.95"/>
<line x1="123.5" y1="449.4" x2="125.9" y2="449.4" stroke="#111" stroke-width="0.95"/>
<line x1="128" y1="458.2" x2="128" y2="460.8" stroke="#111" stroke-width="0.95"/>
<line x1="141" y1="458.2" x2="141" y2="460.8" stroke="#111" stroke-width="0.95"/>
<line x1="142.8" y1="458.2" x2="142.8" y2="460.8" stroke="#111" stroke-width="0.95"/>
<line x1="144.3" y1="458.2" x2="144.3" y2="460.8" stroke="#111" stroke-width="0.95"/>
<line x1="145.8" y1="458.2" x2="145.8" y2="460.8" stroke="#111" stroke-width="0.95"/>
<line x1="148.3" y1="458.2" x2="148.3" y2="460.8" stroke="#111" stroke-width="0.95"/>
<line x1="153.1" y1="458.2" x2="153.1" y2="460.8" stroke="#111" stroke-width="0.95"/>
<line x1="162.6" y1="458.2" x2="162.6" y2="460.8" stroke="#111" stroke-width="0.95"/>
<line x1="172.2" y1="458.2" x2="172.2" y2="460.8" stroke="#111" stroke-width="0.95"/>
<line x1="181.7" y1="458.2" x2="181.7" y2="460.8" stroke="#111" stroke-width="0.95"/>
<line x1="192.1" y1="458.2" x2="192.1" y2="460.8" stroke="#111" stroke-width="0.95"/>
<path d="M147.9 429.6C165.56 429.6 178 432.4 180 434.6C178 436.8 165.56 439.6 147.9 439.6" fill="#f6f6f6" stroke="#d0d0d0" stroke-width="0.6"/>
<path d="M149.9 431C164.53 431 174.5 433.02 176.5 434.6C174.5 436.18 164.53 438.2 149.9 438.2" fill="none" stroke="#c4c4c4" stroke-width="0.6"/>
<path d="M151.9 432.5C161.58 432.5 167.5 433.65 169.5 434.55C167.5 435.45 161.58 436.6 151.9 436.6" fill="none" stroke="#c0c0c0" stroke-width="0.6"/>
<path d="M142 431.1C142 417.65 141.7 405.7 145.2 404.2C148.7 405.7 148.4 417.65 148.4 431.1" fill="#f7f7f7" stroke="#d0d0d0" stroke-width="0.6"/>
<path d="M143.4 430.1C143.4 418.8 143.1 409 145.2 407.5C147.3 409 147 418.8 147 430.1" fill="none" stroke="#c6c6c6" stroke-width="0.6"/>
<ellipse cx="144.6" cy="434.5" rx="7.4" ry="7.03" fill="#f4f4f4" stroke="#cccccc" stroke-width="0.6"/>
<ellipse cx="144.6" cy="434.5" rx="6.4" ry="6.08" fill="#dcdcdc" stroke="#a8a8a8" stroke-width="0.6"/>
<circle cx="144.9" cy="434.1" r="6.2" fill="url(#blob)"/>
<circle cx="178.99" cy="416.69" r="0.35" fill="#c8c8c8"/>
<circle cx="184.16" cy="421.9" r="0.35" fill="#c8c8c8"/>
<circle cx="182.5" cy="421.38" r="0.35" fill="#c8c8c8"/>
<circle cx="161.17" cy="409.51" r="0.35" fill="#c8c8c8"/>
<circle cx="188.6" cy="414.27" r="0.35" fill="#c8c8c8"/>
<circle cx="187.33" cy="400.34" r="0.35" fill="#c8c8c8"/>
<circle cx="174.37" cy="403.81" r="0.35" fill="#c8c8c8"/>
<circle cx="176.61" cy="412.32" r="0.35" fill="#c8c8c8"/>
<circle cx="160.69" cy="403.03" r="0.35" fill="#c8c8c8"/>
<circle cx="168.68" cy="421.22" r="0.35" fill="#c8c8c8"/>
<circle cx="183.27" cy="401.55" r="0.35" fill="#c8c8c8"/>
<circle cx="184.21" cy="401.01" r="0.35" fill="#c8c8c8"/>
<circle cx="178.82" cy="400.69" r="0.35" fill="#c8c8c8"/>
<circle cx="160.35" cy="420.06" r="0.35" fill="#c8c8c8"/>
<circle cx="166.58" cy="403" r="0.35" fill="#c8c8c8"/>
<circle cx="189.77" cy="420.08" r="0.35" fill="#c8c8c8"/>
<circle cx="168.98" cy="422.4" r="0.35" fill="#c8c8c8"/>
<circle cx="176.48" cy="415.02" r="0.35" fill="#c8c8c8"/>
<circle cx="166.44" cy="421.87" r="0.35" fill="#c8c8c8"/>
<circle cx="181.02" cy="422.53" r="0.35" fill="#c8c8c8"/>
<circle cx="187.11" cy="405.17" r="0.35" fill="#c8c8c8"/>
<circle cx="171.14" cy="401.71" r="0.35" fill="#c8c8c8"/>
<circle cx="164.67" cy="399.09" r="0.35" fill="#c8c8c8"/>
<circle cx="169.34" cy="413.08" r="0.35" fill="#c8c8c8"/>
<circle cx="160.4" cy="415.03" r="0.35" fill="#c8c8c8"/>
<circle cx="170.44" cy="405.46" r="0.35" fill="#c8c8c8"/>
<circle cx="184.86" cy="409.9" r="0.35" fill="#c8c8c8"/>
<circle cx="169.77" cy="409.91" r="0.35" fill="#c8c8c8"/>
<line x1="152.3" y1="383.4" x2="152.3" y2="458.2" stroke="#6a6a6a" stroke-width="1.1"/>
<line x1="125.9" y1="426.8" x2="200.5" y2="426.8" stroke="#3a3a3a" stroke-width="1"/>
<rect x="125.9" y="383.4" width="74.6" height="74.8" fill="none" stroke="#0a0a0a" stroke-width="1.5"/>
<text x="129.2" y="392.3" font-size="8" fill="#1a1a1a" textLength="14.2" lengthAdjust="spacingAndGlyphs">2.80</text>
<text x="197.5" y="392.3" font-size="8" text-anchor="end" fill="#1a1a1a" textLength="14.2" lengthAdjust="spacingAndGlyphs">0.36</text>
<text x="129.2" y="455.1" font-size="8" fill="#1a1a1a" textLength="14.2" lengthAdjust="spacingAndGlyphs">90.8</text>
<text x="197.5" y="455.1" font-size="8" text-anchor="end" fill="#1a1a1a" textLength="14.2" lengthAdjust="spacingAndGlyphs">6.06</text>
<line x1="205" y1="386.3" x2="207.4" y2="386.3" stroke="#111" stroke-width="0.95"/>
<line x1="205.8" y1="391.9" x2="207.4" y2="391.9" stroke="#111" stroke-width="0.95"/>
<line x1="205" y1="398.5" x2="207.4" y2="398.5" stroke="#111" stroke-width="0.95"/>
<line x1="205.8" y1="405.9" x2="207.4" y2="405.9" stroke="#111" stroke-width="0.95"/>
<line x1="205" y1="414.7" x2="207.4" y2="414.7" stroke="#111" stroke-width="0.95"/>
<line x1="205.8" y1="422.9" x2="207.4" y2="422.9" stroke="#111" stroke-width="0.95"/>
<line x1="205" y1="431" x2="207.4" y2="431" stroke="#111" stroke-width="0.95"/>
<line x1="205.8" y1="432.8" x2="207.4" y2="432.8" stroke="#111" stroke-width="0.95"/>
<line x1="205.8" y1="434.2" x2="207.4" y2="434.2" stroke="#111" stroke-width="0.95"/>
<line x1="205.8" y1="435.4" x2="207.4" y2="435.4" stroke="#111" stroke-width="0.95"/>
<line x1="205.8" y1="436.6" x2="207.4" y2="436.6" stroke="#111" stroke-width="0.95"/>
<line x1="205.8" y1="439.9" x2="207.4" y2="439.9" stroke="#111" stroke-width="0.95"/>
<line x1="205" y1="449.4" x2="207.4" y2="449.4" stroke="#111" stroke-width="0.95"/>
<line x1="209.5" y1="458.2" x2="209.5" y2="460.8" stroke="#111" stroke-width="0.95"/>
<line x1="222.5" y1="458.2" x2="222.5" y2="460.8" stroke="#111" stroke-width="0.95"/>
<line x1="224.3" y1="458.2" x2="224.3" y2="460.8" stroke="#111" stroke-width="0.95"/>
<line x1="225.8" y1="458.2" x2="225.8" y2="460.8" stroke="#111" stroke-width="0.95"/>
<line x1="227.3" y1="458.2" x2="227.3" y2="460.8" stroke="#111" stroke-width="0.95"/>
<line x1="229.8" y1="458.2" x2="229.8" y2="460.8" stroke="#111" stroke-width="0.95"/>
<line x1="234.6" y1="458.2" x2="234.6" y2="460.8" stroke="#111" stroke-width="0.95"/>
<line x1="244.1" y1="458.2" x2="244.1" y2="460.8" stroke="#111" stroke-width="0.95"/>
<line x1="253.7" y1="458.2" x2="253.7" y2="460.8" stroke="#111" stroke-width="0.95"/>
<line x1="263.2" y1="458.2" x2="263.2" y2="460.8" stroke="#111" stroke-width="0.95"/>
<line x1="273.6" y1="458.2" x2="273.6" y2="460.8" stroke="#111" stroke-width="0.95"/>
<rect x="230.4" y="428.1" width="37.6" height="11.2" rx="5.6" fill="#f1f1f1" stroke="#c8c8c8" stroke-width="0.6"/>
<rect x="232.4" y="429.8" width="33.1" height="7.8" rx="3.9" fill="none" stroke="#b4b4b4" stroke-width="0.6"/>
<rect x="235.4" y="431.6" width="24.6" height="4.2" rx="2.1" fill="none" stroke="#b8b8b8" stroke-width="0.6"/>
<rect x="223.5" y="398.9" width="8.7" height="31.7" rx="4.35" fill="#f1f1f1" stroke="#c4c4c4" stroke-width="0.6"/>
<rect x="225" y="401.5" width="5.7" height="28.1" rx="2.85" fill="none" stroke="#b0b0b0" stroke-width="0.6"/>
<rect x="226.6" y="405" width="2.5" height="23.6" rx="1.25" fill="none" stroke="#bdbdbd" stroke-width="0.6"/>
<ellipse cx="227.4" cy="433.6" rx="8.0" ry="8.4" fill="#f2f2f2" stroke="#c4c4c4" stroke-width="0.6"/>
<ellipse cx="227.4" cy="433.6" rx="7.0" ry="7.35" fill="#d8d8d8" stroke="#8a8a8a" stroke-width="0.6"/>
<ellipse cx="227.4" cy="433.6" rx="6.0" ry="6.3" fill="#b8b8b8" stroke="#6a6a6a" stroke-width="0.6"/>
<circle cx="227.4" cy="433.6" r="5.8" fill="url(#blob)"/>
<circle cx="252.6" cy="410.42" r="0.4" fill="#b8b8b8"/>
<circle cx="237.95" cy="397.93" r="0.4" fill="#b8b8b8"/>
<circle cx="240.14" cy="398.61" r="0.4" fill="#b8b8b8"/>
<circle cx="254.09" cy="407.87" r="0.4" fill="#b8b8b8"/>
<circle cx="253.19" cy="404.46" r="0.4" fill="#b8b8b8"/>
<circle cx="248.1" cy="418.36" r="0.4" fill="#b8b8b8"/>
<circle cx="242.98" cy="395.21" r="0.4" fill="#b8b8b8"/>
<circle cx="246.36" cy="403.47" r="0.4" fill="#b8b8b8"/>
<circle cx="266.21" cy="421.34" r="0.4" fill="#b8b8b8"/>
<circle cx="255.16" cy="415.98" r="0.4" fill="#b8b8b8"/>
<circle cx="243.91" cy="400.02" r="0.4" fill="#b8b8b8"/>
<circle cx="256.79" cy="414.28" r="0.4" fill="#b8b8b8"/>
<circle cx="253.84" cy="411.51" r="0.4" fill="#b8b8b8"/>
<circle cx="262.39" cy="411.33" r="0.4" fill="#b8b8b8"/>
<circle cx="248.68" cy="408.43" r="0.4" fill="#b8b8b8"/>
<circle cx="242.93" cy="400.84" r="0.4" fill="#b8b8b8"/>
<circle cx="260.02" cy="405.6" r="0.4" fill="#b8b8b8"/>
<circle cx="263.36" cy="423.76" r="0.4" fill="#b8b8b8"/>
<circle cx="253.46" cy="407.82" r="0.4" fill="#b8b8b8"/>
<circle cx="268.96" cy="413.95" r="0.4" fill="#b8b8b8"/>
<circle cx="265.2" cy="414.9" r="0.4" fill="#b8b8b8"/>
<circle cx="266.34" cy="411.23" r="0.4" fill="#b8b8b8"/>
<circle cx="243.56" cy="408.55" r="0.4" fill="#b8b8b8"/>
<circle cx="237.82" cy="398.62" r="0.4" fill="#b8b8b8"/>
<circle cx="249.39" cy="403.07" r="0.4" fill="#b8b8b8"/>
<circle cx="243.44" cy="405.22" r="0.4" fill="#b8b8b8"/>
<circle cx="269.46" cy="419.22" r="0.4" fill="#b8b8b8"/>
<circle cx="261.48" cy="403.3" r="0.4" fill="#b8b8b8"/>
<circle cx="264.68" cy="421.51" r="0.4" fill="#b8b8b8"/>
<circle cx="257.78" cy="396.93" r="0.4" fill="#b8b8b8"/>
<circle cx="245.33" cy="403.97" r="0.4" fill="#b8b8b8"/>
<circle cx="241.19" cy="403.16" r="0.4" fill="#b8b8b8"/>
<circle cx="251.55" cy="403.31" r="0.4" fill="#b8b8b8"/>
<circle cx="241.53" cy="400.52" r="0.4" fill="#b8b8b8"/>
<circle cx="254.69" cy="411.92" r="0.4" fill="#b8b8b8"/>
<circle cx="267.87" cy="415.84" r="0.4" fill="#b8b8b8"/>
<circle cx="267.94" cy="408.22" r="0.4" fill="#b8b8b8"/>
<circle cx="249.77" cy="407.42" r="0.4" fill="#b8b8b8"/>
<circle cx="259.91" cy="412.07" r="0.4" fill="#b8b8b8"/>
<circle cx="247.67" cy="405.88" r="0.4" fill="#b8b8b8"/>
<circle cx="243.37" cy="398.56" r="0.4" fill="#b8b8b8"/>
<circle cx="241.95" cy="400.49" r="0.4" fill="#b8b8b8"/>
<line x1="235.5" y1="383.4" x2="235.5" y2="458.2" stroke="#6a6a6a" stroke-width="1.1"/>
<line x1="207.4" y1="426.8" x2="282.1" y2="426.8" stroke="#3a3a3a" stroke-width="1"/>
<rect x="207.4" y="383.4" width="74.7" height="74.8" fill="none" stroke="#0a0a0a" stroke-width="1.5"/>
<text x="210.7" y="392.3" font-size="8" fill="#1a1a1a" textLength="14.2" lengthAdjust="spacingAndGlyphs">5.83</text>
<text x="279.1" y="392.3" font-size="8" text-anchor="end" fill="#1a1a1a" textLength="14.2" lengthAdjust="spacingAndGlyphs">0.97</text>
<text x="210.7" y="455.1" font-size="8" fill="#1a1a1a" textLength="14.2" lengthAdjust="spacingAndGlyphs">83.8</text>
<text x="279.1" y="455.1" font-size="8" text-anchor="end" fill="#1a1a1a" textLength="14.2" lengthAdjust="spacingAndGlyphs">9.40</text>
<line x1="41.9" y1="467.6" x2="44.3" y2="467.6" stroke="#111" stroke-width="0.95"/>
<line x1="42.7" y1="473.2" x2="44.3" y2="473.2" stroke="#111" stroke-width="0.95"/>
<line x1="41.9" y1="479.8" x2="44.3" y2="479.8" stroke="#111" stroke-width="0.95"/>
<line x1="42.7" y1="487.2" x2="44.3" y2="487.2" stroke="#111" stroke-width="0.95"/>
<line x1="41.9" y1="496" x2="44.3" y2="496" stroke="#111" stroke-width="0.95"/>
<line x1="42.7" y1="504.2" x2="44.3" y2="504.2" stroke="#111" stroke-width="0.95"/>
<line x1="41.9" y1="512.3" x2="44.3" y2="512.3" stroke="#111" stroke-width="0.95"/>
<line x1="42.7" y1="514.1" x2="44.3" y2="514.1" stroke="#111" stroke-width="0.95"/>
<line x1="42.7" y1="515.5" x2="44.3" y2="515.5" stroke="#111" stroke-width="0.95"/>
<line x1="42.7" y1="516.7" x2="44.3" y2="516.7" stroke="#111" stroke-width="0.95"/>
<line x1="42.7" y1="517.9" x2="44.3" y2="517.9" stroke="#111" stroke-width="0.95"/>
<line x1="42.7" y1="521.2" x2="44.3" y2="521.2" stroke="#111" stroke-width="0.95"/>
<line x1="41.9" y1="530.7" x2="44.3" y2="530.7" stroke="#111" stroke-width="0.95"/>
<line x1="46.4" y1="538.8" x2="46.4" y2="541.4" stroke="#111" stroke-width="0.95"/>
<line x1="59.4" y1="538.8" x2="59.4" y2="541.4" stroke="#111" stroke-width="0.95"/>
<line x1="61.2" y1="538.8" x2="61.2" y2="541.4" stroke="#111" stroke-width="0.95"/>
<line x1="62.7" y1="538.8" x2="62.7" y2="541.4" stroke="#111" stroke-width="0.95"/>
<line x1="64.2" y1="538.8" x2="64.2" y2="541.4" stroke="#111" stroke-width="0.95"/>
<line x1="66.7" y1="538.8" x2="66.7" y2="541.4" stroke="#111" stroke-width="0.95"/>
<line x1="71.5" y1="538.8" x2="71.5" y2="541.4" stroke="#111" stroke-width="0.95"/>
<line x1="81" y1="538.8" x2="81" y2="541.4" stroke="#111" stroke-width="0.95"/>
<line x1="90.6" y1="538.8" x2="90.6" y2="541.4" stroke="#111" stroke-width="0.95"/>
<line x1="100.1" y1="538.8" x2="100.1" y2="541.4" stroke="#111" stroke-width="0.95"/>
<line x1="110.5" y1="538.8" x2="110.5" y2="541.4" stroke="#111" stroke-width="0.95"/>
<circle cx="64.7" cy="515.8" r="6.2" fill="url(#blob)"/>
<line x1="72" y1="464.7" x2="72" y2="538.8" stroke="#6a6a6a" stroke-width="1.1"/>
<line x1="44.3" y1="508.5" x2="119.1" y2="508.5" stroke="#3a3a3a" stroke-width="1"/>
<rect x="44.3" y="464.7" width="74.8" height="74.1" fill="none" stroke="#0a0a0a" stroke-width="1.5"/>
<text x="47.6" y="473.6" font-size="8" fill="#1a1a1a" textLength="14.2" lengthAdjust="spacingAndGlyphs">0.02</text>
<text x="116.1" y="473.6" font-size="8" text-anchor="end" fill="#1a1a1a" textLength="14.2" lengthAdjust="spacingAndGlyphs">0.00</text>
<text x="47.6" y="535.7" font-size="8" fill="#1a1a1a" textLength="14.2" lengthAdjust="spacingAndGlyphs">99.9</text>
<text x="116.1" y="535.7" font-size="8" text-anchor="end" fill="#1a1a1a" textLength="14.2" lengthAdjust="spacingAndGlyphs">0.04</text>
<line x1="123.5" y1="467.6" x2="125.9" y2="467.6" stroke="#111" stroke-width="0.95"/>
<line x1="124.3" y1="473.2" x2="125.9" y2="473.2" stroke="#111" stroke-width="0.95"/>
<line x1="123.5" y1="479.8" x2="125.9" y2="479.8" stroke="#111" stroke-width="0.95"/>
<line x1="124.3" y1="487.2" x2="125.9" y2="487.2" stroke="#111" stroke-width="0.95"/>
<line x1="123.5" y1="496" x2="125.9" y2="496" stroke="#111" stroke-width="0.95"/>
<line x1="124.3" y1="504.2" x2="125.9" y2="504.2" stroke="#111" stroke-width="0.95"/>
<line x1="123.5" y1="512.3" x2="125.9" y2="512.3" stroke="#111" stroke-width="0.95"/>
<line x1="124.3" y1="514.1" x2="125.9" y2="514.1" stroke="#111" stroke-width="0.95"/>
<line x1="124.3" y1="515.5" x2="125.9" y2="515.5" stroke="#111" stroke-width="0.95"/>
<line x1="124.3" y1="516.7" x2="125.9" y2="516.7" stroke="#111" stroke-width="0.95"/>
<line x1="124.3" y1="517.9" x2="125.9" y2="517.9" stroke="#111" stroke-width="0.95"/>
<line x1="124.3" y1="521.2" x2="125.9" y2="521.2" stroke="#111" stroke-width="0.95"/>
<line x1="123.5" y1="530.7" x2="125.9" y2="530.7" stroke="#111" stroke-width="0.95"/>
<line x1="128" y1="538.8" x2="128" y2="541.4" stroke="#111" stroke-width="0.95"/>
<line x1="141" y1="538.8" x2="141" y2="541.4" stroke="#111" stroke-width="0.95"/>
<line x1="142.8" y1="538.8" x2="142.8" y2="541.4" stroke="#111" stroke-width="0.95"/>
<line x1="144.3" y1="538.8" x2="144.3" y2="541.4" stroke="#111" stroke-width="0.95"/>
<line x1="145.8" y1="538.8" x2="145.8" y2="541.4" stroke="#111" stroke-width="0.95"/>
<line x1="148.3" y1="538.8" x2="148.3" y2="541.4" stroke="#111" stroke-width="0.95"/>
<line x1="153.1" y1="538.8" x2="153.1" y2="541.4" stroke="#111" stroke-width="0.95"/>
<line x1="162.6" y1="538.8" x2="162.6" y2="541.4" stroke="#111" stroke-width="0.95"/>
<line x1="172.2" y1="538.8" x2="172.2" y2="541.4" stroke="#111" stroke-width="0.95"/>
<line x1="181.7" y1="538.8" x2="181.7" y2="541.4" stroke="#111" stroke-width="0.95"/>
<line x1="192.1" y1="538.8" x2="192.1" y2="541.4" stroke="#111" stroke-width="0.95"/>
<circle cx="143.89" cy="497.86" r="0.4" fill="#b5b5b5"/>
<circle cx="144.55" cy="499.29" r="0.4" fill="#b5b5b5"/>
<circle cx="145.83" cy="486.37" r="0.4" fill="#b5b5b5"/>
<circle cx="142.77" cy="504.9" r="0.4" fill="#b5b5b5"/>
<circle cx="144" cy="490.42" r="0.4" fill="#b5b5b5"/>
<circle cx="147.68" cy="496.09" r="0.4" fill="#b5b5b5"/>
<circle cx="146.88" cy="496.23" r="0.4" fill="#b5b5b5"/>
<circle cx="145.9" cy="488.41" r="0.4" fill="#b5b5b5"/>
<circle cx="145.87" cy="505.63" r="0.4" fill="#b5b5b5"/>
<circle cx="145.32" cy="502.59" r="0.4" fill="#b5b5b5"/>
<circle cx="146.06" cy="486.34" r="0.4" fill="#b5b5b5"/>
<circle cx="146.49" cy="498.99" r="0.4" fill="#b5b5b5"/>
<circle cx="144.21" cy="485.54" r="0.4" fill="#b5b5b5"/>
<circle cx="147.03" cy="496.15" r="0.4" fill="#b5b5b5"/>
<circle cx="146.29" cy="505.89" r="0.4" fill="#b5b5b5"/>
<circle cx="146.27" cy="506.91" r="0.4" fill="#b5b5b5"/>
<circle cx="144.67" cy="504.02" r="0.4" fill="#b5b5b5"/>
<circle cx="144.92" cy="507.25" r="0.4" fill="#b5b5b5"/>
<circle cx="147.09" cy="487.14" r="0.4" fill="#b5b5b5"/>
<circle cx="143.38" cy="490.01" r="0.4" fill="#b5b5b5"/>
<circle cx="147.53" cy="495.27" r="0.4" fill="#b5b5b5"/>
<circle cx="145.83" cy="492.02" r="0.4" fill="#b5b5b5"/>
<circle cx="145.24" cy="494.06" r="0.4" fill="#b5b5b5"/>
<circle cx="144.45" cy="498.84" r="0.4" fill="#b5b5b5"/>
<circle cx="145.62" cy="506.5" r="0.4" fill="#b5b5b5"/>
<circle cx="146.11" cy="507.09" r="0.4" fill="#b5b5b5"/>
<circle cx="146.98" cy="508.58" r="0.4" fill="#b5b5b5"/>
<circle cx="146.06" cy="488.71" r="0.4" fill="#b5b5b5"/>
<circle cx="147" cy="507.95" r="0.4" fill="#b5b5b5"/>
<circle cx="147.22" cy="498.46" r="0.4" fill="#b5b5b5"/>
<ellipse cx="142.7" cy="519.3" rx="4.5" ry="5.5" fill="#ececec"/>
<circle cx="145.2" cy="515.8" r="6" fill="url(#blob)"/>
<line x1="152.3" y1="464.7" x2="152.3" y2="538.8" stroke="#6a6a6a" stroke-width="1.1"/>
<line x1="125.9" y1="508.5" x2="200.5" y2="508.5" stroke="#3a3a3a" stroke-width="1"/>
<rect x="125.9" y="464.7" width="74.6" height="74.1" fill="none" stroke="#0a0a0a" stroke-width="1.5"/>
<text x="129.2" y="473.6" font-size="8" fill="#1a1a1a" textLength="14.2" lengthAdjust="spacingAndGlyphs">1.11</text>
<text x="197.5" y="473.6" font-size="8" text-anchor="end" fill="#1a1a1a" textLength="14.2" lengthAdjust="spacingAndGlyphs">0.03</text>
<text x="129.2" y="535.7" font-size="8" fill="#1a1a1a" textLength="14.2" lengthAdjust="spacingAndGlyphs">98.8</text>
<text x="197.5" y="535.7" font-size="8" text-anchor="end" fill="#1a1a1a" textLength="14.2" lengthAdjust="spacingAndGlyphs">0.05</text>
<line x1="205" y1="467.6" x2="207.4" y2="467.6" stroke="#111" stroke-width="0.95"/>
<line x1="205.8" y1="473.2" x2="207.4" y2="473.2" stroke="#111" stroke-width="0.95"/>
<line x1="205" y1="479.8" x2="207.4" y2="479.8" stroke="#111" stroke-width="0.95"/>
<line x1="205.8" y1="487.2" x2="207.4" y2="487.2" stroke="#111" stroke-width="0.95"/>
<line x1="205" y1="496" x2="207.4" y2="496" stroke="#111" stroke-width="0.95"/>
<line x1="205.8" y1="504.2" x2="207.4" y2="504.2" stroke="#111" stroke-width="0.95"/>
<line x1="205" y1="512.3" x2="207.4" y2="512.3" stroke="#111" stroke-width="0.95"/>
<line x1="205.8" y1="514.1" x2="207.4" y2="514.1" stroke="#111" stroke-width="0.95"/>
<line x1="205.8" y1="515.5" x2="207.4" y2="515.5" stroke="#111" stroke-width="0.95"/>
<line x1="205.8" y1="516.7" x2="207.4" y2="516.7" stroke="#111" stroke-width="0.95"/>
<line x1="205.8" y1="517.9" x2="207.4" y2="517.9" stroke="#111" stroke-width="0.95"/>
<line x1="205.8" y1="521.2" x2="207.4" y2="521.2" stroke="#111" stroke-width="0.95"/>
<line x1="205" y1="530.7" x2="207.4" y2="530.7" stroke="#111" stroke-width="0.95"/>
<line x1="209.5" y1="538.8" x2="209.5" y2="541.4" stroke="#111" stroke-width="0.95"/>
<line x1="222.5" y1="538.8" x2="222.5" y2="541.4" stroke="#111" stroke-width="0.95"/>
<line x1="224.3" y1="538.8" x2="224.3" y2="541.4" stroke="#111" stroke-width="0.95"/>
<line x1="225.8" y1="538.8" x2="225.8" y2="541.4" stroke="#111" stroke-width="0.95"/>
<line x1="227.3" y1="538.8" x2="227.3" y2="541.4" stroke="#111" stroke-width="0.95"/>
<line x1="229.8" y1="538.8" x2="229.8" y2="541.4" stroke="#111" stroke-width="0.95"/>
<line x1="234.6" y1="538.8" x2="234.6" y2="541.4" stroke="#111" stroke-width="0.95"/>
<line x1="244.1" y1="538.8" x2="244.1" y2="541.4" stroke="#111" stroke-width="0.95"/>
<line x1="253.7" y1="538.8" x2="253.7" y2="541.4" stroke="#111" stroke-width="0.95"/>
<line x1="263.2" y1="538.8" x2="263.2" y2="541.4" stroke="#111" stroke-width="0.95"/>
<line x1="273.6" y1="538.8" x2="273.6" y2="541.4" stroke="#111" stroke-width="0.95"/>
<path d="M225 510.2C224.7 499.2 225 482.5 228.5 480.5C231.4 482.5 231.7 499.2 231.4 510.2" fill="none" stroke="#bdbdbd" stroke-width="0.6"/>
<path d="M226 510.2C225.7 499.2 226 486 228.5 484C230.4 486 230.7 499.2 230.4 510.2" fill="none" stroke="#b4b4b4" stroke-width="0.6"/>
<path d="M226.9 510.2C226.6 499.2 226.9 491 228.5 489C229.5 491 229.8 499.2 229.5 510.2" fill="none" stroke="#c4c4c4" stroke-width="0.6"/>
<circle cx="228.2" cy="515.2" r="7.0" fill="#f2f2f2" stroke="#c4c4c4" stroke-width="0.6"/>
<circle cx="228.2" cy="515.2" r="6.1" fill="#d4d4d4" stroke="#8c8c8c" stroke-width="0.6"/>
<circle cx="228.2" cy="515.2" r="6.2" fill="url(#blob)"/>
<circle cx="255.07" cy="508.69" r="0.35" fill="#c4c4c4"/>
<circle cx="269.23" cy="503.98" r="0.35" fill="#c4c4c4"/>
<circle cx="256.74" cy="510.07" r="0.35" fill="#c4c4c4"/>
<circle cx="247.04" cy="506.3" r="0.35" fill="#c4c4c4"/>
<circle cx="260.4" cy="520.35" r="0.35" fill="#c4c4c4"/>
<circle cx="244.32" cy="495.87" r="0.35" fill="#c4c4c4"/>
<circle cx="244.22" cy="521.18" r="0.35" fill="#c4c4c4"/>
<circle cx="262.3" cy="482.79" r="0.35" fill="#c4c4c4"/>
<circle cx="270.97" cy="528.94" r="0.35" fill="#c4c4c4"/>
<circle cx="261.12" cy="511.48" r="0.35" fill="#c4c4c4"/>
<circle cx="246.22" cy="481.45" r="0.35" fill="#c4c4c4"/>
<circle cx="257.35" cy="483.68" r="0.35" fill="#c4c4c4"/>
<circle cx="247.21" cy="492.8" r="0.35" fill="#c4c4c4"/>
<circle cx="242.4" cy="503.9" r="0.35" fill="#c4c4c4"/>
<circle cx="254.72" cy="522.82" r="0.35" fill="#c4c4c4"/>
<circle cx="257.07" cy="512.71" r="0.35" fill="#c4c4c4"/>
<circle cx="256.49" cy="513.82" r="0.35" fill="#c4c4c4"/>
<circle cx="255.22" cy="494.61" r="0.35" fill="#c4c4c4"/>
<circle cx="271.43" cy="530.48" r="0.35" fill="#c4c4c4"/>
<circle cx="266.71" cy="516.09" r="0.35" fill="#c4c4c4"/>
<circle cx="250.96" cy="492.18" r="0.35" fill="#c4c4c4"/>
<circle cx="250.17" cy="484.21" r="0.35" fill="#c4c4c4"/>
<circle cx="264.49" cy="500.72" r="0.35" fill="#c4c4c4"/>
<circle cx="266.9" cy="500.03" r="0.35" fill="#c4c4c4"/>
<circle cx="270.24" cy="523.07" r="0.35" fill="#c4c4c4"/>
<line x1="235.5" y1="464.7" x2="235.5" y2="538.8" stroke="#6a6a6a" stroke-width="1.1"/>
<line x1="207.4" y1="508.5" x2="282.1" y2="508.5" stroke="#3a3a3a" stroke-width="1"/>
<rect x="207.4" y="464.7" width="74.7" height="74.1" fill="none" stroke="#0a0a0a" stroke-width="1.5"/>
<text x="210.7" y="473.6" font-size="8" fill="#1a1a1a" textLength="14.2" lengthAdjust="spacingAndGlyphs">5.23</text>
<text x="279.1" y="473.6" font-size="8" text-anchor="end" fill="#1a1a1a" textLength="14.2" lengthAdjust="spacingAndGlyphs">0.23</text>
<text x="210.7" y="535.7" font-size="8" fill="#1a1a1a" textLength="14.2" lengthAdjust="spacingAndGlyphs">94.3</text>
<text x="279.1" y="535.7" font-size="8" text-anchor="end" fill="#1a1a1a" textLength="14.2" lengthAdjust="spacingAndGlyphs">0.25</text>
<line x1="33.6" y1="521.8" x2="33.6" y2="388" stroke="#222" stroke-width="1"/>
<path d="M31.5 389.2L33.6 384.9L35.7 389.2Z" fill="#111"/>
<line x1="72.6" y1="549.1" x2="279" y2="549.1" stroke="#222" stroke-width="1"/>
<path d="M277.8 547L282.4 549.1L277.8 551.2Z" fill="#111"/>
<text x="24.4" y="423.9" font-size="7.6" text-anchor="middle" fill="#e3336a" style="stroke:#e3336a">N1</text>
<text x="16.8" y="501.2" font-size="8.1" text-anchor="middle" fill="#3e7fa6" style="stroke:#3e7fa6">Control</text>
<text x="20" y="533" font-size="7.7" fill="#1a1a1a">IFN<tspan font-size="5.6" dy="0.8">γ</tspan></text>
<text x="44.4" y="551.6" font-size="7.9" fill="#1a1a1a">IL-22</text>
<rect x="354.2" y="476.9" width="8.6" height="19.8" fill="#f6a7b7"/>
<rect x="391.7" y="470.0" width="8.6" height="26.7" fill="#f6a7b7"/>
<path d="M348.8 420.8V496.7H419.3" fill="none" stroke="#1a1a1a" stroke-width="1.2"/>
<line x1="346.0" y1="423.6" x2="348.8" y2="423.6" stroke="#1a1a1a" stroke-width="1.1"/>
<text x="343.6" y="426.5" font-size="8" text-anchor="end" fill="#1a1a1a" textLength="14.5" lengthAdjust="spacingAndGlyphs">15%</text>
<line x1="346.0" y1="447.97" x2="348.8" y2="447.97" stroke="#1a1a1a" stroke-width="1.1"/>
<text x="343.6" y="450.87" font-size="8" text-anchor="end" fill="#1a1a1a" textLength="14.5" lengthAdjust="spacingAndGlyphs">10%</text>
<line x1="346.0" y1="472.33" x2="348.8" y2="472.33" stroke="#1a1a1a" stroke-width="1.1"/>
<text x="343.6" y="475.23" font-size="8" text-anchor="end" fill="#1a1a1a" textLength="10.5" lengthAdjust="spacingAndGlyphs">5%</text>
<line x1="346.0" y1="496.7" x2="348.8" y2="496.7" stroke="#1a1a1a" stroke-width="1.1"/>
<text x="343.6" y="499.6" font-size="8" text-anchor="end" fill="#1a1a1a" textLength="10.5" lengthAdjust="spacingAndGlyphs">0%</text>
<line x1="365.0" y1="496.7" x2="365.0" y2="499.0" stroke="#1a1a1a" stroke-width="1.1"/>
<text x="365.0" y="509.5" font-size="7.9" text-anchor="middle" fill="#1a1a1a">Raji</text>
<text x="365.0" y="518.9" font-size="7.9" text-anchor="middle" fill="#1a1a1a">CD19+</text>
<line x1="402.7" y1="496.7" x2="402.7" y2="499.0" stroke="#1a1a1a" stroke-width="1.1"/>
<text x="402.7" y="509.5" font-size="7.9" text-anchor="middle" fill="#1a1a1a">PMA/</text>
<text x="402.7" y="518.9" font-size="7.9" text-anchor="middle" fill="#1a1a1a">Ionomycin</text>
<text transform="translate(310.8,460.8) rotate(-90)" font-size="8.8" text-anchor="middle" fill="#1a1a1a" stroke="#1a1a1a" stroke-width="0.15" textLength="22.5" lengthAdjust="spacingAndGlyphs">IL-22+</text>
<text transform="translate(321.8,460.1) rotate(-90)" font-size="8.8" text-anchor="middle" fill="#1a1a1a" stroke="#1a1a1a" stroke-width="0.15" textLength="75" lengthAdjust="spacingAndGlyphs">of CD4+ EGFRt+ cells</text>
<line x1="358.8" y1="463.8" x2="372.4" y2="494.9" stroke="#111" stroke-width="0.9"/>
<line x1="358.8" y1="467.7" x2="372.4" y2="495.3" stroke="#111" stroke-width="0.9"/>
<line x1="358.8" y1="470.8" x2="372.4" y2="494.6" stroke="#111" stroke-width="0.9"/>
<line x1="358.8" y1="479.7" x2="372.4" y2="495.5" stroke="#111" stroke-width="0.9"/>
<line x1="358.8" y1="485.8" x2="372.4" y2="495.0" stroke="#111" stroke-width="0.9"/>
<line x1="358.8" y1="488.0" x2="372.4" y2="495.6" stroke="#111" stroke-width="0.9"/>
<circle cx="358.8" cy="463.8" r="2.3" fill="#e2103d"/>
<circle cx="372.4" cy="494.9" r="2.3" fill="#17688e"/>
<circle cx="358.8" cy="467.7" r="2.3" fill="#e2103d"/>
<circle cx="372.4" cy="495.3" r="2.3" fill="#17688e"/>
<circle cx="358.8" cy="470.8" r="2.3" fill="#e2103d"/>
<circle cx="372.4" cy="494.6" r="2.3" fill="#17688e"/>
<circle cx="358.8" cy="479.7" r="2.3" fill="#e2103d"/>
<circle cx="372.4" cy="495.5" r="2.3" fill="#17688e"/>
<circle cx="358.8" cy="485.8" r="2.3" fill="#e2103d"/>
<circle cx="372.4" cy="495.0" r="2.3" fill="#17688e"/>
<circle cx="358.8" cy="488.0" r="2.3" fill="#e2103d"/>
<circle cx="372.4" cy="495.6" r="2.3" fill="#17688e"/>
<line x1="395.8" y1="446.9" x2="409.9" y2="493.1" stroke="#111" stroke-width="0.9"/>
<line x1="395.8" y1="460.0" x2="409.9" y2="494.2" stroke="#111" stroke-width="0.9"/>
<line x1="395.8" y1="470.8" x2="409.9" y2="493.6" stroke="#111" stroke-width="0.9"/>
<line x1="395.8" y1="473.1" x2="409.9" y2="494.8" stroke="#111" stroke-width="0.9"/>
<line x1="395.8" y1="476.2" x2="409.9" y2="494.0" stroke="#111" stroke-width="0.9"/>
<line x1="395.8" y1="479.2" x2="409.9" y2="495.0" stroke="#111" stroke-width="0.9"/>
<circle cx="395.8" cy="446.9" r="2.3" fill="#e2103d"/>
<circle cx="409.9" cy="493.1" r="2.3" fill="#17688e"/>
<circle cx="395.8" cy="460.0" r="2.3" fill="#e2103d"/>
<circle cx="409.9" cy="494.2" r="2.3" fill="#17688e"/>
<circle cx="395.8" cy="470.8" r="2.3" fill="#e2103d"/>
<circle cx="409.9" cy="493.6" r="2.3" fill="#17688e"/>
<circle cx="395.8" cy="473.1" r="2.3" fill="#e2103d"/>
<circle cx="409.9" cy="494.8" r="2.3" fill="#17688e"/>
<circle cx="395.8" cy="476.2" r="2.3" fill="#e2103d"/>
<circle cx="409.9" cy="494.0" r="2.3" fill="#17688e"/>
<circle cx="395.8" cy="479.2" r="2.3" fill="#e2103d"/>
<circle cx="409.9" cy="495.0" r="2.3" fill="#17688e"/>
<path d="M358.8 425.6V423.4H372.4V425.6" fill="none" stroke="#2a2a2a" stroke-width="1.1"/>
<circle cx="360.58" cy="419.8" r="1.25" fill="#2a2a2a"/>
<circle cx="363.93" cy="419.8" r="1.25" fill="#2a2a2a"/>
<circle cx="367.28" cy="419.8" r="1.25" fill="#2a2a2a"/>
<circle cx="370.62" cy="419.8" r="1.25" fill="#2a2a2a"/>
<path d="M395.8 425.6V423.4H409.9V425.6" fill="none" stroke="#2a2a2a" stroke-width="1.1"/>
<circle cx="397.83" cy="419.8" r="1.25" fill="#2a2a2a"/>
<circle cx="401.18" cy="419.8" r="1.25" fill="#2a2a2a"/>
<circle cx="404.53" cy="419.8" r="1.25" fill="#2a2a2a"/>
<circle cx="407.88" cy="419.8" r="1.25" fill="#2a2a2a"/>
<circle cx="433.1" cy="455.4" r="2.2" fill="#e2103d"/>
<text x="438.1" y="458.3" font-size="7.9" fill="#1a1a1a">N1</text>
<circle cx="433.1" cy="465.0" r="2.2" fill="#17688e"/>
<text x="438.1" y="467.9" font-size="7.9" fill="#1a1a1a">Control</text>
<text x="-0.4" y="9.6" font-size="11.4" font-weight="bold" fill="#000" textLength="9.3" lengthAdjust="spacingAndGlyphs">A</text>
<text x="0.4" y="375.7" font-size="10.8" font-weight="bold" fill="#000">B</text>
</svg>
</body></html>
